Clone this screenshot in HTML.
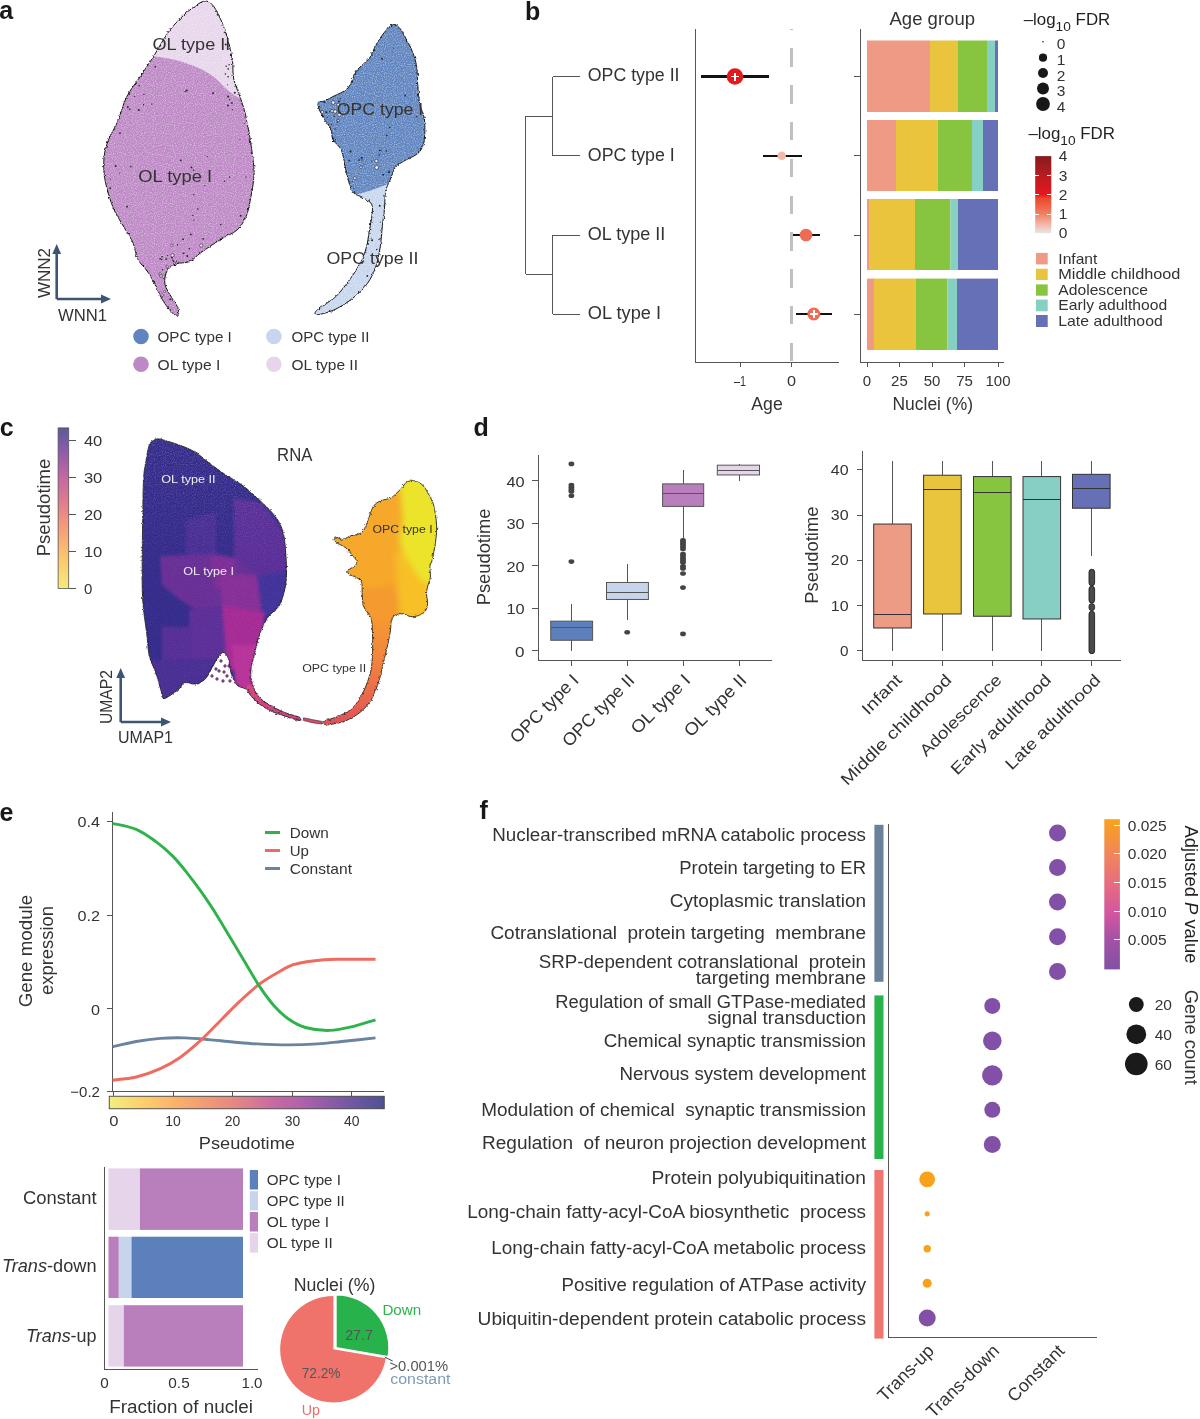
<!DOCTYPE html>
<html><head><meta charset="utf-8"><style>
html,body{margin:0;padding:0;background:#fff;}
svg{display:block;will-change:transform;}
text{font-family:"Liberation Sans", sans-serif;}
line{shape-rendering:crispEdges;}
</style></head><body>
<svg width="1200" height="1419" viewBox="0 0 1200 1419">
<rect width="1200" height="1419" fill="#fff"/>
<defs>
<clipPath id="clipOL"><path d="M204.4,1.1 C207.4,0.7 209.8,2.0 212.2,4.5 C214.6,7.0 216.9,11.7 219.0,15.8 C221.1,19.9 222.9,24.4 224.6,29.3 C226.3,34.2 227.9,39.8 229.2,45.1 C230.5,50.4 231.8,55.3 232.5,60.9 C233.2,66.5 232.6,73.3 233.7,78.9 C234.8,84.5 237.4,89.1 239.3,94.7 C241.2,100.3 243.3,105.9 245.0,112.7 C246.7,119.5 248.2,127.8 249.5,135.3 C250.8,142.8 252.1,151.0 252.8,157.8 C253.6,164.6 254.4,169.1 254.0,175.9 C253.6,182.7 251.9,191.6 250.6,198.4 C249.3,205.2 248.4,211.2 246.1,216.5 C243.8,221.8 241.1,226.2 237.0,230.0 C232.9,233.8 227.3,235.2 221.3,239.0 C215.3,242.8 206.3,248.7 201.0,252.5 C195.7,256.3 193.8,259.7 189.7,261.6 C185.6,263.5 179.9,262.3 176.2,263.8 C172.4,265.3 169.1,267.2 167.2,270.6 C165.3,274.0 164.2,279.6 164.9,284.1 C165.7,288.6 169.6,293.8 171.7,297.6 C173.8,301.4 176.2,303.9 177.3,306.7 C178.4,309.5 179.2,313.4 178.4,314.5 C177.7,315.6 175.4,315.8 172.8,313.4 C170.2,311.0 165.8,305.1 162.6,299.9 C159.4,294.6 156.2,286.8 153.6,281.9 C151.0,277.0 149.5,274.4 146.9,270.6 C144.3,266.8 140.1,263.8 137.8,259.3 C135.5,254.8 135.6,248.8 133.3,243.5 C131.1,238.2 127.7,233.7 124.3,227.7 C120.9,221.7 116.2,215.3 113.0,207.4 C109.8,199.5 106.6,188.7 105.1,180.4 C103.6,172.1 103.4,164.6 104.0,157.8 C104.6,151.0 106.2,145.8 108.5,139.8 C110.8,133.8 114.5,128.9 117.5,121.8 C120.5,114.7 122.8,104.5 126.6,97.0 C130.4,89.5 135.6,83.5 140.1,76.7 C144.6,69.9 149.1,63.5 153.6,56.4 C158.1,49.2 162.7,40.2 167.2,33.8 C171.7,27.4 176.2,22.5 180.7,18.0 C185.2,13.5 190.2,9.6 194.2,6.8 C198.1,4.0 201.4,1.5 204.4,1.1Z"/></clipPath>
<clipPath id="clipOPC"><path d="M393.1,24.7 C395.6,24.0 397.4,25.6 399.5,27.9 C401.6,30.2 403.9,34.7 406.0,38.6 C408.1,42.5 410.6,46.8 412.4,51.5 C414.2,56.2 415.8,60.9 416.7,66.6 C417.6,72.3 417.2,79.5 417.8,85.9 C418.4,92.3 418.9,99.8 420.0,105.2 C421.1,110.6 423.6,112.4 424.3,118.1 C425.0,123.8 425.2,133.9 424.3,139.6 C423.4,145.3 422.3,148.9 418.9,152.5 C415.5,156.1 407.8,158.6 403.8,161.1 C399.9,163.6 397.5,164.4 395.2,167.6 C392.9,170.8 391.5,176.6 389.9,180.5 C388.3,184.4 386.5,186.5 385.6,191.2 C384.7,195.8 385.0,202.7 384.5,208.4 C384.0,214.1 383.1,219.2 382.4,225.6 C381.7,232.0 381.3,240.2 380.2,247.0 C379.1,253.8 378.0,260.3 375.9,266.4 C373.8,272.5 371.2,278.2 367.3,283.6 C363.4,289.0 357.7,294.3 352.3,298.6 C346.9,302.9 340.8,306.7 335.1,309.4 C329.4,312.1 321.1,314.3 317.9,314.7 C314.7,315.1 314.3,313.4 315.7,311.5 C317.1,309.6 322.8,306.4 326.5,303.5 C330.2,300.6 333.4,299.4 338.0,294.3 C342.6,289.2 349.9,279.9 354.4,272.8 C358.9,265.7 362.7,258.5 365.2,251.4 C367.7,244.3 368.4,236.1 369.5,230.0 C370.6,223.9 371.6,219.3 372.0,215.0 C372.4,210.7 373.1,207.0 371.6,204.1 C370.1,201.2 366.2,199.8 363.0,197.6 C359.8,195.4 355.2,195.8 352.3,191.2 C349.4,186.5 347.6,176.5 345.8,169.7 C344.0,162.9 343.6,155.4 341.5,150.4 C339.4,145.4 334.7,143.2 332.9,139.6 C331.1,136.0 332.6,132.8 330.8,128.9 C329.0,125.0 324.4,120.3 322.2,116.0 C320.0,111.7 317.5,105.6 317.9,103.1 C318.2,100.6 321.8,102.1 324.3,101.0 C326.8,99.9 328.9,98.8 332.9,96.6 C336.8,94.4 344.1,92.3 348.0,88.0 C351.9,83.7 353.0,75.9 356.6,70.9 C360.2,65.9 366.3,62.3 369.5,58.0 C372.7,53.7 373.4,49.4 375.9,45.1 C378.4,40.8 381.6,35.6 384.5,32.2 C387.4,28.8 390.6,25.4 393.1,24.7Z"/></clipPath>
<filter id="speck" x="0" y="0" width="100%" height="100%"><feTurbulence type="fractalNoise" baseFrequency="0.9" numOctaves="1" seed="3" result="n"/><feColorMatrix in="n" type="matrix" values="0 0 0 0 1  0 0 0 0 1  0 0 0 0 1  0 0 0 -2.2 1.25" result="w"/><feComposite in="w" in2="SourceGraphic" operator="in"/></filter>
</defs>
<path d="M204.4,1.1 C207.4,0.7 209.8,2.0 212.2,4.5 C214.6,7.0 216.9,11.7 219.0,15.8 C221.1,19.9 222.9,24.4 224.6,29.3 C226.3,34.2 227.9,39.8 229.2,45.1 C230.5,50.4 231.8,55.3 232.5,60.9 C233.2,66.5 232.6,73.3 233.7,78.9 C234.8,84.5 237.4,89.1 239.3,94.7 C241.2,100.3 243.3,105.9 245.0,112.7 C246.7,119.5 248.2,127.8 249.5,135.3 C250.8,142.8 252.1,151.0 252.8,157.8 C253.6,164.6 254.4,169.1 254.0,175.9 C253.6,182.7 251.9,191.6 250.6,198.4 C249.3,205.2 248.4,211.2 246.1,216.5 C243.8,221.8 241.1,226.2 237.0,230.0 C232.9,233.8 227.3,235.2 221.3,239.0 C215.3,242.8 206.3,248.7 201.0,252.5 C195.7,256.3 193.8,259.7 189.7,261.6 C185.6,263.5 179.9,262.3 176.2,263.8 C172.4,265.3 169.1,267.2 167.2,270.6 C165.3,274.0 164.2,279.6 164.9,284.1 C165.7,288.6 169.6,293.8 171.7,297.6 C173.8,301.4 176.2,303.9 177.3,306.7 C178.4,309.5 179.2,313.4 178.4,314.5 C177.7,315.6 175.4,315.8 172.8,313.4 C170.2,311.0 165.8,305.1 162.6,299.9 C159.4,294.6 156.2,286.8 153.6,281.9 C151.0,277.0 149.5,274.4 146.9,270.6 C144.3,266.8 140.1,263.8 137.8,259.3 C135.5,254.8 135.6,248.8 133.3,243.5 C131.1,238.2 127.7,233.7 124.3,227.7 C120.9,221.7 116.2,215.3 113.0,207.4 C109.8,199.5 106.6,188.7 105.1,180.4 C103.6,172.1 103.4,164.6 104.0,157.8 C104.6,151.0 106.2,145.8 108.5,139.8 C110.8,133.8 114.5,128.9 117.5,121.8 C120.5,114.7 122.8,104.5 126.6,97.0 C130.4,89.5 135.6,83.5 140.1,76.7 C144.6,69.9 149.1,63.5 153.6,56.4 C158.1,49.2 162.7,40.2 167.2,33.8 C171.7,27.4 176.2,22.5 180.7,18.0 C185.2,13.5 190.2,9.6 194.2,6.8 C198.1,4.0 201.4,1.5 204.4,1.1Z" fill="#bd88c5"/>
<g clip-path="url(#clipOL)"><path d="M150,56 C175,58 200,66 214,77 C224,86 230,94 240,98 L260,0 L140,0Z" fill="#e7d6eb"/></g>
<path d="M393.1,24.7 C395.6,24.0 397.4,25.6 399.5,27.9 C401.6,30.2 403.9,34.7 406.0,38.6 C408.1,42.5 410.6,46.8 412.4,51.5 C414.2,56.2 415.8,60.9 416.7,66.6 C417.6,72.3 417.2,79.5 417.8,85.9 C418.4,92.3 418.9,99.8 420.0,105.2 C421.1,110.6 423.6,112.4 424.3,118.1 C425.0,123.8 425.2,133.9 424.3,139.6 C423.4,145.3 422.3,148.9 418.9,152.5 C415.5,156.1 407.8,158.6 403.8,161.1 C399.9,163.6 397.5,164.4 395.2,167.6 C392.9,170.8 391.5,176.6 389.9,180.5 C388.3,184.4 386.5,186.5 385.6,191.2 C384.7,195.8 385.0,202.7 384.5,208.4 C384.0,214.1 383.1,219.2 382.4,225.6 C381.7,232.0 381.3,240.2 380.2,247.0 C379.1,253.8 378.0,260.3 375.9,266.4 C373.8,272.5 371.2,278.2 367.3,283.6 C363.4,289.0 357.7,294.3 352.3,298.6 C346.9,302.9 340.8,306.7 335.1,309.4 C329.4,312.1 321.1,314.3 317.9,314.7 C314.7,315.1 314.3,313.4 315.7,311.5 C317.1,309.6 322.8,306.4 326.5,303.5 C330.2,300.6 333.4,299.4 338.0,294.3 C342.6,289.2 349.9,279.9 354.4,272.8 C358.9,265.7 362.7,258.5 365.2,251.4 C367.7,244.3 368.4,236.1 369.5,230.0 C370.6,223.9 371.6,219.3 372.0,215.0 C372.4,210.7 373.1,207.0 371.6,204.1 C370.1,201.2 366.2,199.8 363.0,197.6 C359.8,195.4 355.2,195.8 352.3,191.2 C349.4,186.5 347.6,176.5 345.8,169.7 C344.0,162.9 343.6,155.4 341.5,150.4 C339.4,145.4 334.7,143.2 332.9,139.6 C331.1,136.0 332.6,132.8 330.8,128.9 C329.0,125.0 324.4,120.3 322.2,116.0 C320.0,111.7 317.5,105.6 317.9,103.1 C318.2,100.6 321.8,102.1 324.3,101.0 C326.8,99.9 328.9,98.8 332.9,96.6 C336.8,94.4 344.1,92.3 348.0,88.0 C351.9,83.7 353.0,75.9 356.6,70.9 C360.2,65.9 366.3,62.3 369.5,58.0 C372.7,53.7 373.4,49.4 375.9,45.1 C378.4,40.8 381.6,35.6 384.5,32.2 C387.4,28.8 390.6,25.4 393.1,24.7Z" fill="#5f84bf"/>
<g clip-path="url(#clipOPC)"><path d="M338,197 C355,196 372,191 395,181 L430,181 L430,330 L300,330Z" fill="#c7d6ee"/></g>
<g opacity="0.55"><rect x="100" y="0" width="330" height="320" fill="#000" filter="url(#speck)" clip-path="url(#clipOL)"/></g>
<g opacity="0.55"><rect x="100" y="0" width="330" height="320" fill="#000" filter="url(#speck)" clip-path="url(#clipOPC)"/></g>
<filter id="rough" x="-5%" y="-5%" width="110%" height="110%"><feTurbulence type="fractalNoise" baseFrequency="0.35" numOctaves="2" seed="7" result="t"/><feDisplacementMap in="SourceGraphic" in2="t" scale="3.2" xChannelSelector="R" yChannelSelector="G"/></filter>
<g clip-path="url(#clipOL)">
<circle cx="177.3" cy="293.6" r="0.89" fill="#222"/>
<circle cx="170.2" cy="281.4" r="0.59" fill="#222"/>
<circle cx="232.1" cy="75.3" r="0.59" fill="#222"/>
<circle cx="166.1" cy="259.1" r="0.90" fill="#222"/>
<circle cx="224.4" cy="181.2" r="0.70" fill="#222"/>
<circle cx="173.1" cy="282.7" r="0.58" fill="#222"/>
<circle cx="129.8" cy="67.3" r="0.52" fill="#222"/>
<circle cx="144.0" cy="94.5" r="0.66" fill="#222"/>
<circle cx="237.6" cy="66.7" r="0.82" fill="#222"/>
<circle cx="160.1" cy="258.8" r="0.83" fill="#222"/>
<circle cx="180.0" cy="299.8" r="0.92" fill="#222"/>
<circle cx="197.8" cy="208.9" r="0.76" fill="#222"/>
<circle cx="106.2" cy="204.4" r="0.70" fill="#222"/>
<circle cx="188.2" cy="273.5" r="0.92" fill="#222"/>
<circle cx="110.6" cy="235.8" r="0.53" fill="#222"/>
<circle cx="179.6" cy="272.9" r="0.54" fill="#222"/>
<circle cx="193.9" cy="194.7" r="0.67" fill="#222"/>
<circle cx="185.0" cy="273.7" r="0.88" fill="#222"/>
<circle cx="108.2" cy="192.9" r="0.51" fill="#222"/>
<circle cx="175.9" cy="263.0" r="0.78" fill="#222"/>
<circle cx="170.2" cy="299.3" r="0.88" fill="#222"/>
<circle cx="172.9" cy="260.2" r="0.71" fill="#222"/>
<circle cx="120.0" cy="100.5" r="0.99" fill="#222"/>
<circle cx="229.6" cy="99.6" r="0.61" fill="#222"/>
<circle cx="179.9" cy="282.1" r="0.79" fill="#222"/>
<circle cx="134.7" cy="96.6" r="0.63" fill="#222"/>
<circle cx="229.9" cy="46.7" r="0.54" fill="#222"/>
<circle cx="110.5" cy="179.1" r="0.51" fill="#222"/>
<circle cx="187.3" cy="255.9" r="0.98" fill="#222"/>
<circle cx="176.6" cy="261.1" r="0.69" fill="#222"/>
<circle cx="190.8" cy="234.4" r="0.91" fill="#222"/>
<circle cx="149.0" cy="51.1" r="0.81" fill="#222"/>
<circle cx="227.9" cy="105.5" r="0.94" fill="#222"/>
<circle cx="226.2" cy="24.3" r="0.55" fill="#222"/>
<circle cx="239.4" cy="41.5" r="0.85" fill="#222"/>
<circle cx="190.2" cy="271.7" r="0.75" fill="#222"/>
<circle cx="227.6" cy="84.8" r="0.53" fill="#222"/>
<circle cx="139.2" cy="85.7" r="0.81" fill="#222"/>
<circle cx="112.7" cy="233.9" r="0.60" fill="#222"/>
<circle cx="106.1" cy="135.2" r="0.62" fill="#222"/>
<circle cx="109.5" cy="126.9" r="0.79" fill="#222"/>
<circle cx="123.7" cy="49.7" r="0.73" fill="#222"/>
<circle cx="204.4" cy="264.2" r="0.79" fill="#222"/>
<circle cx="143.6" cy="104.7" r="0.74" fill="#222"/>
<circle cx="207.1" cy="273.7" r="0.51" fill="#222"/>
<circle cx="185.2" cy="91.4" r="0.66" fill="#222"/>
<circle cx="160.0" cy="45.3" r="0.77" fill="#222"/>
<circle cx="183.1" cy="239.2" r="0.87" fill="#222"/>
<circle cx="151.7" cy="104.1" r="0.68" fill="#222"/>
<circle cx="213.1" cy="93.2" r="0.93" fill="#222"/>
<circle cx="130.8" cy="166.7" r="0.81" fill="#222"/>
<circle cx="167.6" cy="255.6" r="0.54" fill="#222"/>
<circle cx="123.8" cy="248.7" r="0.94" fill="#222"/>
<circle cx="203.1" cy="238.8" r="0.85" fill="#222"/>
<circle cx="168.8" cy="292.7" r="0.54" fill="#222"/>
<circle cx="225.4" cy="74.1" r="0.74" fill="#222"/>
<circle cx="158.3" cy="47.9" r="0.89" fill="#222"/>
<circle cx="244.4" cy="123.5" r="0.51" fill="#222"/>
<circle cx="173.6" cy="261.4" r="0.76" fill="#222"/>
<circle cx="204.6" cy="255.5" r="0.95" fill="#222"/>
<circle cx="189.3" cy="248.8" r="0.82" fill="#222"/>
<circle cx="155.2" cy="66.9" r="0.79" fill="#222"/>
<circle cx="177.6" cy="244.7" r="0.68" fill="#222"/>
<circle cx="126.0" cy="240.3" r="0.64" fill="#222"/>
<circle cx="124.5" cy="73.0" r="0.96" fill="#222"/>
<circle cx="167.7" cy="278.4" r="0.84" fill="#222"/>
<circle cx="238.7" cy="246.9" r="0.73" fill="#222"/>
<circle cx="129.7" cy="109.2" r="0.80" fill="#222"/>
<circle cx="229.6" cy="177.0" r="0.65" fill="#222"/>
<circle cx="225.3" cy="32.2" r="0.73" fill="#222"/>
<circle cx="127.8" cy="107.0" r="0.89" fill="#222"/>
<circle cx="134.5" cy="77.5" r="0.55" fill="#222"/>
<circle cx="234.8" cy="92.7" r="0.98" fill="#222"/>
<circle cx="193.9" cy="220.1" r="0.63" fill="#222"/>
<circle cx="180.8" cy="160.3" r="0.86" fill="#222"/>
<circle cx="129.1" cy="94.5" r="0.77" fill="#222"/>
<circle cx="232.5" cy="109.7" r="0.58" fill="#222"/>
<circle cx="243.4" cy="94.8" r="0.97" fill="#222"/>
<circle cx="207.2" cy="156.6" r="0.60" fill="#222"/>
<circle cx="115.7" cy="165.9" r="0.94" fill="#222"/>
<circle cx="192.8" cy="262.8" r="0.60" fill="#222"/>
<circle cx="240.6" cy="215.7" r="0.96" fill="#222"/>
<circle cx="110.6" cy="230.5" r="0.99" fill="#222"/>
<circle cx="197.2" cy="267.7" r="0.66" fill="#222"/>
<circle cx="239.9" cy="139.2" r="0.54" fill="#222"/>
<circle cx="166.8" cy="274.0" r="0.64" fill="#222"/>
<circle cx="110.8" cy="224.2" r="0.71" fill="#222"/>
<circle cx="109.4" cy="120.3" r="0.89" fill="#222"/>
<circle cx="138.8" cy="110.0" r="0.95" fill="#222"/>
<circle cx="237.6" cy="82.0" r="0.97" fill="#222"/>
<circle cx="171.6" cy="286.0" r="0.88" fill="#222"/>
<circle cx="170.5" cy="268.1" r="0.86" fill="#222"/>
<circle cx="191.5" cy="167.4" r="0.95" fill="#222"/>
<circle cx="183.7" cy="253.3" r="0.92" fill="#222"/>
<circle cx="228.1" cy="96.6" r="0.98" fill="#222"/>
<circle cx="229.1" cy="64.8" r="0.71" fill="#222"/>
<circle cx="119.6" cy="173.0" r="0.51" fill="#222"/>
<circle cx="120.0" cy="133.1" r="0.90" fill="#222"/>
<circle cx="226.8" cy="28.4" r="0.58" fill="#222"/>
<circle cx="231.9" cy="102.9" r="0.90" fill="#222"/>
<circle cx="165.4" cy="276.3" r="0.56" fill="#222"/>
<circle cx="178.0" cy="297.1" r="0.96" fill="#222"/>
<circle cx="229.8" cy="37.2" r="0.81" fill="#222"/>
<circle cx="172.8" cy="267.3" r="0.51" fill="#222"/>
<circle cx="126.2" cy="40.8" r="0.64" fill="#222"/>
<circle cx="204.9" cy="185.4" r="0.55" fill="#222"/>
<circle cx="220.8" cy="224.8" r="0.81" fill="#222"/>
<circle cx="193.8" cy="170.2" r="0.72" fill="#222"/>
<circle cx="172.7" cy="292.1" r="0.81" fill="#222"/>
<circle cx="228.1" cy="76.8" r="0.82" fill="#222"/>
<circle cx="228.2" cy="68.9" r="0.79" fill="#222"/>
<circle cx="129.3" cy="91.9" r="0.91" fill="#222"/>
<circle cx="132.6" cy="62.0" r="0.96" fill="#222"/>
<circle cx="151.1" cy="53.6" r="0.55" fill="#222"/>
<circle cx="125.3" cy="46.2" r="0.69" fill="#222"/>
<circle cx="176.6" cy="274.0" r="0.89" fill="#222"/>
<circle cx="128.0" cy="84.0" r="0.90" fill="#222"/>
<circle cx="110.2" cy="188.1" r="0.96" fill="#222"/>
<circle cx="171.9" cy="257.7" r="0.88" fill="#222"/>
<circle cx="240.0" cy="95.0" r="0.90" fill="#222"/>
<circle cx="162.1" cy="256.7" r="0.78" fill="#222"/>
<circle cx="238.6" cy="63.3" r="0.59" fill="#222"/>
<circle cx="110.3" cy="218.8" r="1.00" fill="#222"/>
<circle cx="186.7" cy="90.5" r="0.98" fill="#222"/>
<circle cx="161.6" cy="259.4" r="0.70" fill="#222"/>
<circle cx="170.3" cy="274.4" r="0.80" fill="#222"/>
<circle cx="123.7" cy="63.0" r="0.60" fill="#222"/>
<circle cx="169.1" cy="288.3" r="0.70" fill="#222"/>
<circle cx="144.2" cy="46.6" r="0.90" fill="#222"/>
<circle cx="218.6" cy="268.1" r="0.85" fill="#222"/>
<circle cx="245.8" cy="176.8" r="0.60" fill="#222"/>
<circle cx="239.7" cy="92.4" r="0.63" fill="#222"/>
<circle cx="127.1" cy="206.7" r="0.91" fill="#222"/>
<circle cx="162.7" cy="269.8" r="0.77" fill="#222"/>
<circle cx="211.0" cy="266.8" r="0.70" fill="#222"/>
<circle cx="192.9" cy="215.5" r="0.65" fill="#222"/>
<circle cx="104.3" cy="124.3" r="0.82" fill="#222"/>
<circle cx="225.7" cy="44.6" r="0.98" fill="#222"/>
<circle cx="185.3" cy="263.1" r="0.78" fill="#222"/>
<circle cx="226.2" cy="66.3" r="0.75" fill="#222"/>
</g>
<g clip-path="url(#clipOL)">
<circle cx="207.1" cy="264.9" r="1.98" fill="#f4eef6" stroke="#222" stroke-width="0.6"/>
<circle cx="171.9" cy="245.2" r="1.24" fill="#f4eef6" stroke="#222" stroke-width="0.6"/>
<circle cx="167.2" cy="266.8" r="1.20" fill="#f4eef6" stroke="#222" stroke-width="0.6"/>
<circle cx="160.2" cy="274.0" r="1.28" fill="#f4eef6" stroke="#222" stroke-width="0.6"/>
<circle cx="169.9" cy="282.8" r="1.97" fill="#f4eef6" stroke="#222" stroke-width="0.6"/>
<circle cx="203.3" cy="266.3" r="1.08" fill="#f4eef6" stroke="#222" stroke-width="0.6"/>
<circle cx="188.2" cy="270.2" r="1.39" fill="#f4eef6" stroke="#222" stroke-width="0.6"/>
<circle cx="216.3" cy="258.3" r="1.60" fill="#f4eef6" stroke="#222" stroke-width="0.6"/>
<circle cx="177.0" cy="279.7" r="1.53" fill="#f4eef6" stroke="#222" stroke-width="0.6"/>
<circle cx="166.6" cy="275.0" r="1.66" fill="#f4eef6" stroke="#222" stroke-width="0.6"/>
<circle cx="171.9" cy="291.2" r="1.03" fill="#f4eef6" stroke="#222" stroke-width="0.6"/>
<circle cx="200.1" cy="261.0" r="1.41" fill="#f4eef6" stroke="#222" stroke-width="0.6"/>
<circle cx="161.0" cy="276.0" r="1.40" fill="#f4eef6" stroke="#222" stroke-width="0.6"/>
<circle cx="161.3" cy="296.7" r="1.43" fill="#f4eef6" stroke="#222" stroke-width="0.6"/>
<circle cx="164.5" cy="291.4" r="1.05" fill="#f4eef6" stroke="#222" stroke-width="0.6"/>
<circle cx="221.2" cy="263.7" r="1.47" fill="#f4eef6" stroke="#222" stroke-width="0.6"/>
<circle cx="201.2" cy="245.5" r="1.62" fill="#f4eef6" stroke="#222" stroke-width="0.6"/>
<circle cx="162.1" cy="295.1" r="1.36" fill="#f4eef6" stroke="#222" stroke-width="0.6"/>
<circle cx="172.5" cy="255.3" r="1.67" fill="#f4eef6" stroke="#222" stroke-width="0.6"/>
<circle cx="170.8" cy="287.4" r="1.68" fill="#f4eef6" stroke="#222" stroke-width="0.6"/>
<circle cx="174.0" cy="283.6" r="2.00" fill="#f4eef6" stroke="#222" stroke-width="0.6"/>
<circle cx="173.2" cy="273.3" r="1.11" fill="#f4eef6" stroke="#222" stroke-width="0.6"/>
</g>
<g clip-path="url(#clipOPC)">
<circle cx="379.6" cy="262.5" r="0.68" fill="#222"/>
<circle cx="375.2" cy="272.5" r="0.85" fill="#222"/>
<circle cx="335.1" cy="128.9" r="0.59" fill="#222"/>
<circle cx="331.6" cy="124.4" r="0.60" fill="#222"/>
<circle cx="379.6" cy="150.5" r="0.63" fill="#222"/>
<circle cx="379.3" cy="155.1" r="0.77" fill="#222"/>
<circle cx="386.6" cy="195.6" r="0.58" fill="#222"/>
<circle cx="335.0" cy="111.8" r="0.74" fill="#222"/>
<circle cx="327.1" cy="117.2" r="0.57" fill="#222"/>
<circle cx="389.1" cy="172.4" r="0.91" fill="#222"/>
<circle cx="330.0" cy="128.6" r="0.70" fill="#222"/>
<circle cx="328.0" cy="124.4" r="0.99" fill="#222"/>
<circle cx="367.3" cy="275.9" r="0.91" fill="#222"/>
<circle cx="329.5" cy="111.6" r="0.55" fill="#222"/>
<circle cx="362.0" cy="208.3" r="0.78" fill="#222"/>
<circle cx="405.2" cy="95.6" r="0.91" fill="#222"/>
<circle cx="349.2" cy="160.7" r="0.83" fill="#222"/>
<circle cx="383.2" cy="174.7" r="0.88" fill="#222"/>
<circle cx="367.1" cy="214.3" r="0.68" fill="#222"/>
<circle cx="369.2" cy="211.7" r="0.85" fill="#222"/>
<circle cx="370.9" cy="280.3" r="0.65" fill="#222"/>
<circle cx="365.5" cy="296.8" r="0.86" fill="#222"/>
<circle cx="320.3" cy="132.3" r="0.51" fill="#222"/>
<circle cx="386.8" cy="135.5" r="0.87" fill="#222"/>
<circle cx="379.9" cy="254.1" r="0.92" fill="#222"/>
<circle cx="322.8" cy="129.2" r="0.94" fill="#222"/>
<circle cx="380.3" cy="222.1" r="0.53" fill="#222"/>
<circle cx="333.3" cy="138.5" r="0.83" fill="#222"/>
<circle cx="345.1" cy="105.6" r="0.89" fill="#222"/>
<circle cx="363.4" cy="163.7" r="0.55" fill="#222"/>
<circle cx="362.1" cy="263.4" r="0.57" fill="#222"/>
<circle cx="359.6" cy="66.5" r="0.88" fill="#222"/>
<circle cx="379.1" cy="239.4" r="0.67" fill="#222"/>
<circle cx="376.8" cy="249.4" r="0.77" fill="#222"/>
<circle cx="383.9" cy="195.7" r="0.71" fill="#222"/>
<circle cx="381.3" cy="280.6" r="0.92" fill="#222"/>
<circle cx="416.6" cy="116.8" r="0.76" fill="#222"/>
<circle cx="389.1" cy="171.1" r="0.71" fill="#222"/>
<circle cx="324.6" cy="102.3" r="0.82" fill="#222"/>
<circle cx="326.7" cy="112.5" r="0.76" fill="#222"/>
<circle cx="384.2" cy="205.9" r="0.65" fill="#222"/>
<circle cx="361.7" cy="157.8" r="0.96" fill="#222"/>
<circle cx="386.4" cy="150.9" r="0.74" fill="#222"/>
<circle cx="362.2" cy="159.9" r="0.68" fill="#222"/>
<circle cx="334.2" cy="116.2" r="0.75" fill="#222"/>
<circle cx="354.8" cy="73.7" r="0.59" fill="#222"/>
<circle cx="375.7" cy="294.2" r="0.78" fill="#222"/>
<circle cx="372.1" cy="240.3" r="0.98" fill="#222"/>
<circle cx="371.5" cy="161.1" r="0.52" fill="#222"/>
<circle cx="339.6" cy="112.3" r="0.76" fill="#222"/>
<circle cx="379.7" cy="205.8" r="0.96" fill="#222"/>
<circle cx="393.1" cy="195.3" r="0.73" fill="#222"/>
<circle cx="337.3" cy="122.3" r="0.58" fill="#222"/>
<circle cx="338.8" cy="101.5" r="0.95" fill="#222"/>
<circle cx="335.2" cy="139.7" r="0.63" fill="#222"/>
<circle cx="353.3" cy="188.5" r="0.50" fill="#222"/>
<circle cx="340.2" cy="98.7" r="0.63" fill="#222"/>
<circle cx="393.9" cy="184.7" r="0.54" fill="#222"/>
<circle cx="360.5" cy="218.8" r="0.60" fill="#222"/>
<circle cx="388.0" cy="172.0" r="0.52" fill="#222"/>
<circle cx="382.1" cy="58.9" r="0.92" fill="#222"/>
<circle cx="367.9" cy="240.5" r="0.78" fill="#222"/>
<circle cx="393.4" cy="48.0" r="0.54" fill="#222"/>
<circle cx="320.9" cy="112.7" r="0.73" fill="#222"/>
<circle cx="381.0" cy="150.6" r="0.69" fill="#222"/>
<circle cx="359.0" cy="107.7" r="0.73" fill="#222"/>
<circle cx="392.1" cy="192.2" r="0.86" fill="#222"/>
<circle cx="325.8" cy="111.9" r="0.77" fill="#222"/>
<circle cx="383.9" cy="275.5" r="0.78" fill="#222"/>
<circle cx="359.1" cy="160.0" r="0.87" fill="#222"/>
<circle cx="367.7" cy="227.4" r="0.73" fill="#222"/>
<circle cx="371.2" cy="238.2" r="0.55" fill="#222"/>
<circle cx="352.2" cy="181.5" r="0.59" fill="#222"/>
<circle cx="328.9" cy="132.7" r="0.80" fill="#222"/>
<circle cx="350.5" cy="151.6" r="0.99" fill="#222"/>
<circle cx="372.5" cy="48.7" r="0.96" fill="#222"/>
<circle cx="414.2" cy="56.7" r="0.60" fill="#222"/>
<circle cx="340.2" cy="112.4" r="0.67" fill="#222"/>
<circle cx="389.8" cy="127.2" r="0.81" fill="#222"/>
<circle cx="384.5" cy="279.0" r="0.83" fill="#222"/>
</g>
<g clip-path="url(#clipOPC)">
<circle cx="361.0" cy="167.2" r="1.31" fill="#f4eef6" stroke="#222" stroke-width="0.6"/>
<circle cx="322.3" cy="112.0" r="1.51" fill="#f4eef6" stroke="#222" stroke-width="0.6"/>
<circle cx="338.2" cy="120.6" r="1.16" fill="#f4eef6" stroke="#222" stroke-width="0.6"/>
<circle cx="332.1" cy="111.0" r="1.50" fill="#f4eef6" stroke="#222" stroke-width="0.6"/>
<circle cx="376.7" cy="167.5" r="1.93" fill="#f4eef6" stroke="#222" stroke-width="0.6"/>
<circle cx="376.4" cy="161.0" r="1.66" fill="#f4eef6" stroke="#222" stroke-width="0.6"/>
<circle cx="354.8" cy="178.2" r="1.42" fill="#f4eef6" stroke="#222" stroke-width="0.6"/>
<circle cx="327.2" cy="132.4" r="1.36" fill="#f4eef6" stroke="#222" stroke-width="0.6"/>
<circle cx="339.4" cy="114.7" r="1.73" fill="#f4eef6" stroke="#222" stroke-width="0.6"/>
<circle cx="393.2" cy="180.7" r="1.56" fill="#f4eef6" stroke="#222" stroke-width="0.6"/>
<circle cx="323.7" cy="125.6" r="1.90" fill="#f4eef6" stroke="#222" stroke-width="0.6"/>
<circle cx="333.2" cy="102.5" r="1.82" fill="#f4eef6" stroke="#222" stroke-width="0.6"/>
<circle cx="335.1" cy="111.5" r="1.76" fill="#f4eef6" stroke="#222" stroke-width="0.6"/>
<circle cx="338.3" cy="104.9" r="1.55" fill="#f4eef6" stroke="#222" stroke-width="0.6"/>
</g>
<path d="M204.4,1.1 C207.4,0.7 209.8,2.0 212.2,4.5 C214.6,7.0 216.9,11.7 219.0,15.8 C221.1,19.9 222.9,24.4 224.6,29.3 C226.3,34.2 227.9,39.8 229.2,45.1 C230.5,50.4 231.8,55.3 232.5,60.9 C233.2,66.5 232.6,73.3 233.7,78.9 C234.8,84.5 237.4,89.1 239.3,94.7 C241.2,100.3 243.3,105.9 245.0,112.7 C246.7,119.5 248.2,127.8 249.5,135.3 C250.8,142.8 252.1,151.0 252.8,157.8 C253.6,164.6 254.4,169.1 254.0,175.9 C253.6,182.7 251.9,191.6 250.6,198.4 C249.3,205.2 248.4,211.2 246.1,216.5 C243.8,221.8 241.1,226.2 237.0,230.0 C232.9,233.8 227.3,235.2 221.3,239.0 C215.3,242.8 206.3,248.7 201.0,252.5 C195.7,256.3 193.8,259.7 189.7,261.6 C185.6,263.5 179.9,262.3 176.2,263.8 C172.4,265.3 169.1,267.2 167.2,270.6 C165.3,274.0 164.2,279.6 164.9,284.1 C165.7,288.6 169.6,293.8 171.7,297.6 C173.8,301.4 176.2,303.9 177.3,306.7 C178.4,309.5 179.2,313.4 178.4,314.5 C177.7,315.6 175.4,315.8 172.8,313.4 C170.2,311.0 165.8,305.1 162.6,299.9 C159.4,294.6 156.2,286.8 153.6,281.9 C151.0,277.0 149.5,274.4 146.9,270.6 C144.3,266.8 140.1,263.8 137.8,259.3 C135.5,254.8 135.6,248.8 133.3,243.5 C131.1,238.2 127.7,233.7 124.3,227.7 C120.9,221.7 116.2,215.3 113.0,207.4 C109.8,199.5 106.6,188.7 105.1,180.4 C103.6,172.1 103.4,164.6 104.0,157.8 C104.6,151.0 106.2,145.8 108.5,139.8 C110.8,133.8 114.5,128.9 117.5,121.8 C120.5,114.7 122.8,104.5 126.6,97.0 C130.4,89.5 135.6,83.5 140.1,76.7 C144.6,69.9 149.1,63.5 153.6,56.4 C158.1,49.2 162.7,40.2 167.2,33.8 C171.7,27.4 176.2,22.5 180.7,18.0 C185.2,13.5 190.2,9.6 194.2,6.8 C198.1,4.0 201.4,1.5 204.4,1.1Z" fill="none" stroke="#1a1a1a" stroke-width="1" filter="url(#rough)"/>
<path d="M393.1,24.7 C395.6,24.0 397.4,25.6 399.5,27.9 C401.6,30.2 403.9,34.7 406.0,38.6 C408.1,42.5 410.6,46.8 412.4,51.5 C414.2,56.2 415.8,60.9 416.7,66.6 C417.6,72.3 417.2,79.5 417.8,85.9 C418.4,92.3 418.9,99.8 420.0,105.2 C421.1,110.6 423.6,112.4 424.3,118.1 C425.0,123.8 425.2,133.9 424.3,139.6 C423.4,145.3 422.3,148.9 418.9,152.5 C415.5,156.1 407.8,158.6 403.8,161.1 C399.9,163.6 397.5,164.4 395.2,167.6 C392.9,170.8 391.5,176.6 389.9,180.5 C388.3,184.4 386.5,186.5 385.6,191.2 C384.7,195.8 385.0,202.7 384.5,208.4 C384.0,214.1 383.1,219.2 382.4,225.6 C381.7,232.0 381.3,240.2 380.2,247.0 C379.1,253.8 378.0,260.3 375.9,266.4 C373.8,272.5 371.2,278.2 367.3,283.6 C363.4,289.0 357.7,294.3 352.3,298.6 C346.9,302.9 340.8,306.7 335.1,309.4 C329.4,312.1 321.1,314.3 317.9,314.7 C314.7,315.1 314.3,313.4 315.7,311.5 C317.1,309.6 322.8,306.4 326.5,303.5 C330.2,300.6 333.4,299.4 338.0,294.3 C342.6,289.2 349.9,279.9 354.4,272.8 C358.9,265.7 362.7,258.5 365.2,251.4 C367.7,244.3 368.4,236.1 369.5,230.0 C370.6,223.9 371.6,219.3 372.0,215.0 C372.4,210.7 373.1,207.0 371.6,204.1 C370.1,201.2 366.2,199.8 363.0,197.6 C359.8,195.4 355.2,195.8 352.3,191.2 C349.4,186.5 347.6,176.5 345.8,169.7 C344.0,162.9 343.6,155.4 341.5,150.4 C339.4,145.4 334.7,143.2 332.9,139.6 C331.1,136.0 332.6,132.8 330.8,128.9 C329.0,125.0 324.4,120.3 322.2,116.0 C320.0,111.7 317.5,105.6 317.9,103.1 C318.2,100.6 321.8,102.1 324.3,101.0 C326.8,99.9 328.9,98.8 332.9,96.6 C336.8,94.4 344.1,92.3 348.0,88.0 C351.9,83.7 353.0,75.9 356.6,70.9 C360.2,65.9 366.3,62.3 369.5,58.0 C372.7,53.7 373.4,49.4 375.9,45.1 C378.4,40.8 381.6,35.6 384.5,32.2 C387.4,28.8 390.6,25.4 393.1,24.7Z" fill="none" stroke="#1a1a1a" stroke-width="1" filter="url(#rough)"/>
<text x="152.5" y="50" font-size="17" text-anchor="start" fill="#333" font-weight="normal" textLength="77.8" lengthAdjust="spacingAndGlyphs">OL type II</text>
<text x="138.3" y="181.5" font-size="17" text-anchor="start" fill="#333" font-weight="normal" textLength="73.9" lengthAdjust="spacingAndGlyphs">OL type I</text>
<text x="336.8" y="114.9" font-size="17" text-anchor="start" fill="#333" font-weight="normal" textLength="86.4" lengthAdjust="spacingAndGlyphs">OPC type I</text>
<text x="326.5" y="264.2" font-size="17" text-anchor="start" fill="#333" font-weight="normal" textLength="92" lengthAdjust="spacingAndGlyphs">OPC type II</text>
<path d="M56.7,299 L56.7,250 M56.7,299 L105,299" stroke="#3d5574" stroke-width="2.6" fill="none"/>
<path d="M56.7,244 L52.3,254 L61.1,254Z M111,299 L101,294.6 L101,303.4Z" fill="#3d5574"/>
<text x="58" y="321" font-size="16" text-anchor="start" fill="#353233" font-weight="normal" textLength="49" lengthAdjust="spacingAndGlyphs">WNN1</text>
<text x="49.5" y="298" font-size="16" text-anchor="start" fill="#353233" font-weight="normal" textLength="50" lengthAdjust="spacingAndGlyphs" transform="rotate(-90 49.5 298)">WNN2</text>
<circle cx="141" cy="336.5" r="7.8" fill="#5f84bf" />
<text x="157.5" y="342.0" font-size="15" text-anchor="start" fill="#353233" font-weight="normal" textLength="74.3" lengthAdjust="spacingAndGlyphs">OPC type I</text>
<circle cx="273.9" cy="336.5" r="7.8" fill="#c7d6ee" />
<text x="291.4" y="342.0" font-size="15" text-anchor="start" fill="#353233" font-weight="normal" textLength="78" lengthAdjust="spacingAndGlyphs">OPC type II</text>
<circle cx="141" cy="364.3" r="7.8" fill="#bd88c5" />
<text x="157.5" y="369.8" font-size="15" text-anchor="start" fill="#353233" font-weight="normal" textLength="62.8" lengthAdjust="spacingAndGlyphs">OL type I</text>
<circle cx="273.9" cy="364.3" r="7.8" fill="#e7d6eb" />
<text x="291.4" y="369.8" font-size="15" text-anchor="start" fill="#353233" font-weight="normal" textLength="66.6" lengthAdjust="spacingAndGlyphs">OL type II</text>
<text x="-0.7" y="19.3" font-size="25" text-anchor="start" fill="#1a1718" font-weight="bold">a</text>
<text x="525" y="19.5" font-size="25" text-anchor="start" fill="#1a1718" font-weight="bold">b</text>
<text x="-0.3" y="435.8" font-size="25" text-anchor="start" fill="#1a1718" font-weight="bold">c</text>
<text x="473.5" y="436" font-size="25" text-anchor="start" fill="#1a1718" font-weight="bold">d</text>
<text x="-0.5" y="820.6" font-size="25" text-anchor="start" fill="#1a1718" font-weight="bold">e</text>
<text x="479.5" y="818.6" font-size="25" text-anchor="start" fill="#1a1718" font-weight="bold">f</text>
<line x1="525.8" y1="116" x2="525.8" y2="274" stroke="#555" stroke-width="1" />
<line x1="525.8" y1="116" x2="552.5" y2="116" stroke="#555" stroke-width="1" />
<line x1="525.8" y1="274" x2="552.5" y2="274" stroke="#555" stroke-width="1" />
<line x1="552.5" y1="76.5" x2="552.5" y2="155.8" stroke="#555" stroke-width="1" />
<line x1="552.5" y1="235" x2="552.5" y2="314" stroke="#555" stroke-width="1" />
<line x1="552.5" y1="76.5" x2="579.5" y2="76.5" stroke="#555" stroke-width="1" />
<line x1="552.5" y1="155.8" x2="579.5" y2="155.8" stroke="#555" stroke-width="1" />
<line x1="552.5" y1="235" x2="579.5" y2="235" stroke="#555" stroke-width="1" />
<line x1="552.5" y1="314" x2="579.5" y2="314" stroke="#555" stroke-width="1" />
<text x="587.8" y="81.4" font-size="17.5" text-anchor="start" fill="#353233" font-weight="normal" textLength="91.7" lengthAdjust="spacingAndGlyphs">OPC type II</text>
<text x="587.8" y="160.70000000000002" font-size="17.5" text-anchor="start" fill="#353233" font-weight="normal" textLength="87" lengthAdjust="spacingAndGlyphs">OPC type I</text>
<text x="587.8" y="239.9" font-size="17.5" text-anchor="start" fill="#353233" font-weight="normal" textLength="77.5" lengthAdjust="spacingAndGlyphs">OL type II</text>
<text x="587.8" y="318.9" font-size="17.5" text-anchor="start" fill="#353233" font-weight="normal" textLength="73.2" lengthAdjust="spacingAndGlyphs">OL type I</text>
<line x1="695" y1="29" x2="695" y2="362.5" stroke="#555" stroke-width="1" />
<line x1="694.5" y1="362" x2="838.7" y2="362" stroke="#555" stroke-width="1" />
<line x1="740" y1="362" x2="740" y2="367" stroke="#555" stroke-width="1" />
<line x1="791" y1="362" x2="791" y2="367" stroke="#555" stroke-width="1" />
<text x="734" y="386" font-size="15" text-anchor="start" fill="#353233" font-weight="normal" textLength="12" lengthAdjust="spacingAndGlyphs">–1</text>
<text x="787" y="386" font-size="15" text-anchor="start" fill="#353233" font-weight="normal" textLength="9" lengthAdjust="spacingAndGlyphs">0</text>
<text x="751.3" y="409.6" font-size="17.8" text-anchor="start" fill="#353233" font-weight="normal" textLength="31.4" lengthAdjust="spacingAndGlyphs">Age</text>
<line x1="791.5" y1="29" x2="791.5" y2="361" stroke="#c0c0c0" stroke-width="3.1" stroke-dasharray="18.4 18.4" stroke-dashoffset="17.4"/>
<line x1="701" y1="76.5" x2="769" y2="76.5" stroke="#111" stroke-width="2.6" />
<circle cx="735" cy="76.5" r="8.3" fill="#e3191c" />
<line x1="731" y1="76.5" x2="739" y2="76.5" stroke="#fff" stroke-width="1.5" />
<line x1="735" y1="72.5" x2="735" y2="80.5" stroke="#fff" stroke-width="1.5" />
<line x1="762.7" y1="155.8" x2="801.8" y2="155.8" stroke="#111" stroke-width="2.6" />
<circle cx="781.7" cy="155.8" r="4.3" fill="#f4b9a9" />
<line x1="792.7" y1="235" x2="819.8" y2="235" stroke="#111" stroke-width="2.6" />
<circle cx="806" cy="235" r="6.3" fill="#ef6b53" />
<line x1="795.8" y1="314" x2="831.8" y2="314" stroke="#111" stroke-width="2.6" />
<circle cx="813.8" cy="314" r="6.5" fill="#ef6b53" />
<line x1="809.8" y1="314" x2="817.8" y2="314" stroke="#fff" stroke-width="1.5" />
<line x1="813.8" y1="310" x2="813.8" y2="318" stroke="#fff" stroke-width="1.5" />
<line x1="860.4" y1="29" x2="860.4" y2="362.5" stroke="#555" stroke-width="1" />
<line x1="860" y1="362" x2="1003.6" y2="362" stroke="#555" stroke-width="1" />
<line x1="854.4" y1="76.5" x2="860.4" y2="76.5" stroke="#555" stroke-width="1" />
<line x1="854.4" y1="155.8" x2="860.4" y2="155.8" stroke="#555" stroke-width="1" />
<line x1="854.4" y1="235" x2="860.4" y2="235" stroke="#555" stroke-width="1" />
<line x1="854.4" y1="314" x2="860.4" y2="314" stroke="#555" stroke-width="1" />
<rect x="867" y="40.5" width="63" height="71.5" fill="#ee9a85" />
<rect x="930" y="40.5" width="28" height="71.5" fill="#e9c43c" />
<rect x="958" y="40.5" width="29" height="71.5" fill="#87c540" />
<rect x="987" y="40.5" width="8" height="71.5" fill="#86cfc3" />
<rect x="995" y="40.5" width="3" height="71.5" fill="#6670b7" />
<rect x="867" y="120" width="29" height="71" fill="#ee9a85" />
<rect x="896" y="120" width="41.60000000000002" height="71" fill="#e9c43c" />
<rect x="937.6" y="120" width="34.39999999999998" height="71" fill="#87c540" />
<rect x="972" y="120" width="11" height="71" fill="#86cfc3" />
<rect x="983" y="120" width="15" height="71" fill="#6670b7" />
<rect x="867" y="199" width="2" height="71" fill="#ee9a85" />
<rect x="869" y="199" width="46" height="71" fill="#e9c43c" />
<rect x="915" y="199" width="35.5" height="71" fill="#87c540" />
<rect x="950.5" y="199" width="7.5" height="71" fill="#86cfc3" />
<rect x="958" y="199" width="40" height="71" fill="#6670b7" />
<rect x="867" y="278.6" width="7" height="71.39999999999998" fill="#ee9a85" />
<rect x="874" y="278.6" width="42" height="71.39999999999998" fill="#e9c43c" />
<rect x="916" y="278.6" width="31.5" height="71.39999999999998" fill="#87c540" />
<rect x="947.5" y="278.6" width="9.5" height="71.39999999999998" fill="#86cfc3" />
<rect x="957" y="278.6" width="41" height="71.39999999999998" fill="#6670b7" />
<line x1="867" y1="362" x2="867" y2="367" stroke="#555" stroke-width="1" />
<text x="867" y="386" font-size="15" text-anchor="middle" fill="#353233" font-weight="normal">0</text>
<line x1="899.4" y1="362" x2="899.4" y2="367" stroke="#555" stroke-width="1" />
<text x="899.4" y="386" font-size="15" text-anchor="middle" fill="#353233" font-weight="normal">25</text>
<line x1="932" y1="362" x2="932" y2="367" stroke="#555" stroke-width="1" />
<text x="932" y="386" font-size="15" text-anchor="middle" fill="#353233" font-weight="normal">50</text>
<line x1="964.6" y1="362" x2="964.6" y2="367" stroke="#555" stroke-width="1" />
<text x="964.6" y="386" font-size="15" text-anchor="middle" fill="#353233" font-weight="normal">75</text>
<line x1="998" y1="362" x2="998" y2="367" stroke="#555" stroke-width="1" />
<text x="998" y="386" font-size="15" text-anchor="middle" fill="#353233" font-weight="normal">100</text>
<text x="892.5" y="409.6" font-size="17.5" text-anchor="start" fill="#353233" font-weight="normal" textLength="80.5" lengthAdjust="spacingAndGlyphs">Nuclei (%)</text>
<text x="889.5" y="24.5" font-size="17.5" text-anchor="start" fill="#353233" font-weight="normal" textLength="85.5" lengthAdjust="spacingAndGlyphs">Age group</text>
<text x="1023.7" y="24.7" font-size="16" fill="#231f20" textLength="86.6" lengthAdjust="spacingAndGlyphs">–log<tspan font-size="13" dy="6">10</tspan><tspan dy="-6"> FDR</tspan></text>
<circle cx="1043" cy="41.8" r="0.8" fill="#1a1718" />
<text x="1056.7" y="49.3" font-size="15.5" text-anchor="start" fill="#353233" font-weight="normal">0</text>
<circle cx="1043" cy="57.7" r="4.1" fill="#1a1718" />
<text x="1056.7" y="65.2" font-size="15.5" text-anchor="start" fill="#353233" font-weight="normal">1</text>
<circle cx="1043" cy="73" r="5" fill="#1a1718" />
<text x="1056.7" y="80.5" font-size="15.5" text-anchor="start" fill="#353233" font-weight="normal">2</text>
<circle cx="1043" cy="88.4" r="6" fill="#1a1718" />
<text x="1056.7" y="95.9" font-size="15.5" text-anchor="start" fill="#353233" font-weight="normal">3</text>
<circle cx="1043" cy="104" r="6.9" fill="#1a1718" />
<text x="1056.7" y="111.5" font-size="15.5" text-anchor="start" fill="#353233" font-weight="normal">4</text>
<text x="1028.4" y="138.8" font-size="16" fill="#231f20" textLength="86.6" lengthAdjust="spacingAndGlyphs">–log<tspan font-size="13" dy="6">10</tspan><tspan dy="-6"> FDR</tspan></text>
<defs><linearGradient id="fdr" x1="0" y1="1" x2="0" y2="0"><stop offset="0" stop-color="#e6e6e6"/><stop offset="0.125" stop-color="#f4b2a2"/><stop offset="0.25" stop-color="#f07f62"/><stop offset="0.45" stop-color="#ec4a2c"/><stop offset="0.5" stop-color="#e8161d"/><stop offset="0.75" stop-color="#b81c22"/><stop offset="1" stop-color="#861a1e"/></linearGradient></defs>
<rect x="1035.2" y="156.1" width="16.1" height="77.1" fill="url(#fdr)" />
<line x1="1035.2" y1="175.3" x2="1039" y2="175.3" stroke="#fff" stroke-width="1" />
<line x1="1046.9" y1="175.3" x2="1051.3" y2="175.3" stroke="#fff" stroke-width="1" />
<line x1="1035.2" y1="194.7" x2="1039" y2="194.7" stroke="#fff" stroke-width="1" />
<line x1="1046.9" y1="194.7" x2="1051.3" y2="194.7" stroke="#fff" stroke-width="1" />
<line x1="1035.2" y1="214.3" x2="1039" y2="214.3" stroke="#fff" stroke-width="1" />
<line x1="1046.9" y1="214.3" x2="1051.3" y2="214.3" stroke="#fff" stroke-width="1" />
<text x="1058.8" y="161" font-size="15.5" text-anchor="start" fill="#353233" font-weight="normal">4</text>
<text x="1058.8" y="180.8" font-size="15.5" text-anchor="start" fill="#353233" font-weight="normal">3</text>
<text x="1058.8" y="199.7" font-size="15.5" text-anchor="start" fill="#353233" font-weight="normal">2</text>
<text x="1058.8" y="219.1" font-size="15.5" text-anchor="start" fill="#353233" font-weight="normal">1</text>
<text x="1058.8" y="237.6" font-size="15.5" text-anchor="start" fill="#353233" font-weight="normal">0</text>
<rect x="1036" y="252.9" width="11.7" height="11.499999999999972" fill="#ee9a85" />
<text x="1058.3" y="263.7" font-size="14.5" text-anchor="start" fill="#353233" font-weight="normal" textLength="39" lengthAdjust="spacingAndGlyphs">Infant</text>
<rect x="1036" y="268.7" width="11.7" height="11.300000000000011" fill="#e9c43c" />
<text x="1058.3" y="279.3" font-size="14.5" text-anchor="start" fill="#353233" font-weight="normal" textLength="122.1" lengthAdjust="spacingAndGlyphs">Middle childhood</text>
<rect x="1036" y="284.4" width="11.7" height="11.300000000000011" fill="#87c540" />
<text x="1058.3" y="295" font-size="14.5" text-anchor="start" fill="#353233" font-weight="normal" textLength="89.7" lengthAdjust="spacingAndGlyphs">Adolescence</text>
<rect x="1036" y="299.6" width="11.7" height="11.699999999999989" fill="#86cfc3" />
<text x="1058.3" y="310.3" font-size="14.5" text-anchor="start" fill="#353233" font-weight="normal" textLength="108.8" lengthAdjust="spacingAndGlyphs">Early adulthood</text>
<rect x="1036" y="315" width="11.7" height="12" fill="#6670b7" />
<text x="1058.3" y="326.3" font-size="14.5" text-anchor="start" fill="#353233" font-weight="normal" textLength="104.4" lengthAdjust="spacingAndGlyphs">Late adulthood</text>
<defs>
<clipPath id="clipCL"><path d="M153.3,440.6 C155.4,439.5 155.4,437.9 161.7,439.5 C168.0,441.1 183.2,445.9 191.3,450.0 C199.4,454.1 204.7,459.7 210.3,463.8 C215.9,467.9 219.7,470.9 225.0,474.4 C230.3,477.9 236.7,481.1 242.0,485.0 C247.3,488.9 251.5,492.8 256.8,497.7 C262.1,502.6 269.6,509.3 273.8,514.6 C278.0,519.9 280.3,523.8 282.2,529.4 C284.1,535.0 284.7,540.3 285.4,548.4 C286.1,556.5 286.9,569.6 286.4,578.0 C285.9,586.4 283.7,594.0 282.2,599.0 C280.7,604.0 279.7,605.0 277.3,608.0 C274.9,611.0 270.9,613.1 268.0,617.3 C265.1,621.5 262.2,627.3 260.0,633.3 C257.8,639.3 256.2,646.8 254.7,653.3 C253.1,659.8 250.9,666.4 250.7,672.0 C250.5,677.6 251.8,682.4 253.3,686.7 C254.9,691.0 256.7,694.6 260.0,698.0 C263.3,701.4 269.0,704.5 273.3,707.0 C277.6,709.5 281.6,711.3 286.0,713.0 C290.4,714.7 297.1,716.0 299.4,717.3 C301.7,718.6 302.0,720.8 299.6,720.6 C297.2,720.4 289.8,717.6 285.0,716.0 C280.2,714.4 275.5,713.2 271.0,711.0 C266.5,708.8 261.5,705.8 258.0,703.0 C254.5,700.2 252.0,696.8 250.0,694.5 C248.0,692.2 248.1,690.6 245.9,689.0 C243.7,687.4 239.5,687.7 237.0,685.0 C234.5,682.3 232.4,677.3 231.0,673.0 C229.6,668.7 229.7,662.4 228.5,659.0 C227.3,655.6 225.6,653.0 224.0,652.5 C222.4,652.0 220.8,653.8 219.0,656.0 C217.2,658.2 215.1,662.4 213.0,666.0 C210.9,669.6 208.7,674.7 206.4,677.6 C204.1,680.5 201.5,682.2 199.3,683.3 C197.1,684.4 195.9,684.1 193.3,684.0 C190.8,683.9 186.2,682.0 184.0,682.7 C181.8,683.4 181.8,686.2 180.0,688.0 C178.2,689.8 176.0,691.5 173.3,693.3 C170.6,695.1 165.9,698.6 164.0,698.7 C162.1,698.8 163.3,698.2 162.0,694.0 C160.7,689.8 158.1,679.6 156.0,673.3 C153.9,667.0 150.9,662.7 149.3,656.0 C147.8,649.3 147.8,642.6 146.7,633.3 C145.6,624.0 143.4,612.2 142.7,600.0 C141.9,587.8 142.2,573.3 142.2,560.0 C142.2,546.7 142.5,533.3 142.7,520.0 C142.9,506.7 143.0,489.7 143.5,480.0 C144.0,470.3 144.9,467.4 145.8,461.7 C146.7,456.0 147.8,449.5 149.0,446.0 C150.2,442.5 151.2,441.7 153.3,440.6Z"/></clipPath>
<clipPath id="clipCR"><path d="M410.7,480.2 C412.8,480.2 416.4,481.3 418.6,482.4 C420.9,483.5 422.5,484.8 424.2,486.9 C425.9,489.0 427.3,492.0 428.8,494.8 C430.3,497.6 432.2,500.4 433.3,503.8 C434.4,507.2 434.9,511.3 435.5,515.1 C436.1,518.9 436.6,522.6 436.7,526.4 C436.8,530.2 436.5,534.0 436.1,537.7 C435.7,541.5 435.1,545.1 434.4,548.9 C433.7,552.6 432.9,557.3 432.1,560.2 C431.4,563.1 430.2,563.7 429.9,566.5 C429.6,569.3 430.8,573.7 430.4,577.1 C430.0,580.5 428.1,584.2 427.5,587.0 C426.9,589.8 426.5,591.4 426.5,594.1 C426.5,596.8 427.8,600.3 427.6,603.1 C427.4,605.9 426.9,608.9 425.4,611.0 C423.9,613.1 421.1,614.6 418.6,615.5 C416.2,616.4 413.1,616.9 410.7,616.6 C408.3,616.4 406.4,614.4 404.0,614.0 C401.6,613.6 398.1,613.5 396.0,614.5 C393.9,615.5 392.4,617.4 391.5,620.0 C390.6,622.6 391.1,626.0 390.5,630.0 C389.9,634.0 389.0,638.7 387.8,644.1 C386.6,649.5 385.0,656.3 383.5,662.4 C382.0,668.5 381.0,674.7 379.0,680.8 C377.0,686.9 374.7,693.9 371.6,699.1 C368.5,704.3 365.0,708.2 360.6,711.9 C356.2,715.6 350.6,719.0 345.0,721.1 C339.4,723.2 330.1,724.8 326.7,724.8 C323.3,724.8 323.0,722.5 324.8,721.1 C326.6,719.7 333.1,718.6 337.7,716.5 C342.3,714.4 348.0,712.4 352.3,708.3 C356.6,704.2 360.2,697.9 363.3,691.8 C366.4,685.7 369.1,678.0 370.6,671.6 C372.1,665.2 372.2,659.4 372.5,653.3 C372.8,647.2 372.7,640.5 372.5,635.0 C372.3,629.5 372.3,623.6 371.5,620.0 C370.7,616.4 369.3,615.7 367.9,613.2 C366.5,610.8 364.2,608.5 363.3,605.3 C362.4,602.1 362.5,598.0 362.2,594.1 C361.9,590.2 362.6,584.8 361.5,582.0 C360.4,579.2 357.6,578.4 355.5,577.1 C353.4,575.8 349.9,575.2 348.7,574.0 C347.5,572.8 347.4,571.3 348.5,570.0 C349.6,568.7 353.7,567.5 355.0,566.0 C356.3,564.5 357.0,562.8 356.5,561.0 C356.0,559.2 353.8,557.2 352.0,555.0 C350.2,552.8 348.3,549.9 346.0,548.0 C343.7,546.1 340.0,544.9 338.0,543.5 C336.0,542.1 334.2,540.8 334.0,539.8 C333.8,538.8 335.5,537.5 337.0,537.5 C338.5,537.5 341.0,540.2 343.0,540.0 C345.0,539.8 346.6,537.5 349.0,536.5 C351.4,535.5 355.5,535.0 357.7,534.3 C359.9,533.5 360.9,533.3 362.2,532.0 C363.5,530.7 364.5,528.8 365.6,526.4 C366.7,524.0 367.9,520.4 369.0,517.4 C370.1,514.4 371.1,510.8 372.4,508.3 C373.7,505.9 375.0,504.1 376.9,502.7 C378.8,501.3 381.4,500.6 383.6,499.9 C385.9,499.1 388.3,499.2 390.4,498.2 C392.5,497.2 394.1,495.4 396.0,493.7 C397.9,492.0 400.0,489.9 401.7,488.0 C403.4,486.1 404.7,483.7 406.2,482.4 C407.7,481.1 408.6,480.2 410.7,480.2Z"/></clipPath>
<filter id="blur6" x="-50%" y="-50%" width="200%" height="200%"><feGaussianBlur stdDeviation="6"/></filter>
<filter id="blur3" x="-50%" y="-50%" width="200%" height="200%"><feGaussianBlur stdDeviation="3"/></filter>
<linearGradient id="stemg" x1="0" y1="0" x2="0" y2="1"><stop offset="0" stop-color="#f7a12a"/><stop offset="0.45" stop-color="#f2863e"/><stop offset="0.8" stop-color="#e8634f"/><stop offset="1" stop-color="#dc4b63"/></linearGradient>
</defs>
<path d="M153.3,440.6 C155.4,439.5 155.4,437.9 161.7,439.5 C168.0,441.1 183.2,445.9 191.3,450.0 C199.4,454.1 204.7,459.7 210.3,463.8 C215.9,467.9 219.7,470.9 225.0,474.4 C230.3,477.9 236.7,481.1 242.0,485.0 C247.3,488.9 251.5,492.8 256.8,497.7 C262.1,502.6 269.6,509.3 273.8,514.6 C278.0,519.9 280.3,523.8 282.2,529.4 C284.1,535.0 284.7,540.3 285.4,548.4 C286.1,556.5 286.9,569.6 286.4,578.0 C285.9,586.4 283.7,594.0 282.2,599.0 C280.7,604.0 279.7,605.0 277.3,608.0 C274.9,611.0 270.9,613.1 268.0,617.3 C265.1,621.5 262.2,627.3 260.0,633.3 C257.8,639.3 256.2,646.8 254.7,653.3 C253.1,659.8 250.9,666.4 250.7,672.0 C250.5,677.6 251.8,682.4 253.3,686.7 C254.9,691.0 256.7,694.6 260.0,698.0 C263.3,701.4 269.0,704.5 273.3,707.0 C277.6,709.5 281.6,711.3 286.0,713.0 C290.4,714.7 297.1,716.0 299.4,717.3 C301.7,718.6 302.0,720.8 299.6,720.6 C297.2,720.4 289.8,717.6 285.0,716.0 C280.2,714.4 275.5,713.2 271.0,711.0 C266.5,708.8 261.5,705.8 258.0,703.0 C254.5,700.2 252.0,696.8 250.0,694.5 C248.0,692.2 248.1,690.6 245.9,689.0 C243.7,687.4 239.5,687.7 237.0,685.0 C234.5,682.3 232.4,677.3 231.0,673.0 C229.6,668.7 229.7,662.4 228.5,659.0 C227.3,655.6 225.6,653.0 224.0,652.5 C222.4,652.0 220.8,653.8 219.0,656.0 C217.2,658.2 215.1,662.4 213.0,666.0 C210.9,669.6 208.7,674.7 206.4,677.6 C204.1,680.5 201.5,682.2 199.3,683.3 C197.1,684.4 195.9,684.1 193.3,684.0 C190.8,683.9 186.2,682.0 184.0,682.7 C181.8,683.4 181.8,686.2 180.0,688.0 C178.2,689.8 176.0,691.5 173.3,693.3 C170.6,695.1 165.9,698.6 164.0,698.7 C162.1,698.8 163.3,698.2 162.0,694.0 C160.7,689.8 158.1,679.6 156.0,673.3 C153.9,667.0 150.9,662.7 149.3,656.0 C147.8,649.3 147.8,642.6 146.7,633.3 C145.6,624.0 143.4,612.2 142.7,600.0 C141.9,587.8 142.2,573.3 142.2,560.0 C142.2,546.7 142.5,533.3 142.7,520.0 C142.9,506.7 143.0,489.7 143.5,480.0 C144.0,470.3 144.9,467.4 145.8,461.7 C146.7,456.0 147.8,449.5 149.0,446.0 C150.2,442.5 151.2,441.7 153.3,440.6Z" fill="#342b8b"/>
<filter id="blur1" x="-10%" y="-10%" width="120%" height="120%"><feGaussianBlur stdDeviation="1.8"/></filter>
<g clip-path="url(#clipCL)">
<g filter="url(#blur1)">
<polygon points="234,498 262,503 290,540 290,578 258,578 234,560" fill="#5a2d98"/>
<polygon points="186,520 216,512 216,556 186,556" fill="#482d94"/>
<polygon points="160,556 216,554 236,558 258,577 258,590 236,600 220,606 200,612 180,600 162,585" fill="#672d96"/>
<polygon points="210,556 235,558 236,588 215,590" fill="#7b2d97"/>
<polygon points="220,573 258,576 262,612 240,612 222,606" fill="#872d97"/>
<polygon points="257,576 290,570 290,617 262,617" fill="#40309a"/>
<polygon points="222,606 264,612 264,640 258,670 226,670 224,640" fill="#a52a95"/>
<polygon points="232,645 262,645 258,694 236,692" fill="#b73099"/>
<polygon points="189,610 222,606 226,648 222,660 190,660" fill="#5c2d98"/>
<polygon points="162,627 192,627 192,662 162,662" fill="#542d97"/>
<polygon points="140,660 224,658 224,705 140,705" fill="#4a2d94"/>
</g>
<path d="M248,684 L300,712 L305,725 L240,700Z" fill="#d3437d"/>
</g>
<circle cx="221" cy="661" r="1.4" fill="#8f3a9c" stroke="#444" stroke-width="0.4"/>
<circle cx="225" cy="666" r="1.4" fill="#8f3a9c" stroke="#444" stroke-width="0.4"/>
<circle cx="219" cy="671" r="1.4" fill="#8f3a9c" stroke="#444" stroke-width="0.4"/>
<circle cx="227" cy="676" r="1.4" fill="#8f3a9c" stroke="#444" stroke-width="0.4"/>
<circle cx="223" cy="681" r="1.4" fill="#8f3a9c" stroke="#444" stroke-width="0.4"/>
<circle cx="216" cy="669" r="1.4" fill="#8f3a9c" stroke="#444" stroke-width="0.4"/>
<circle cx="229" cy="666" r="1.4" fill="#8f3a9c" stroke="#444" stroke-width="0.4"/>
<circle cx="212" cy="676" r="1.4" fill="#8f3a9c" stroke="#444" stroke-width="0.4"/>
<circle cx="230" cy="681" r="1.4" fill="#8f3a9c" stroke="#444" stroke-width="0.4"/>
<circle cx="217" cy="679" r="1.4" fill="#8f3a9c" stroke="#444" stroke-width="0.4"/>
<circle cx="224" cy="672" r="1.4" fill="#8f3a9c" stroke="#444" stroke-width="0.4"/>
<path d="M410.7,480.2 C412.8,480.2 416.4,481.3 418.6,482.4 C420.9,483.5 422.5,484.8 424.2,486.9 C425.9,489.0 427.3,492.0 428.8,494.8 C430.3,497.6 432.2,500.4 433.3,503.8 C434.4,507.2 434.9,511.3 435.5,515.1 C436.1,518.9 436.6,522.6 436.7,526.4 C436.8,530.2 436.5,534.0 436.1,537.7 C435.7,541.5 435.1,545.1 434.4,548.9 C433.7,552.6 432.9,557.3 432.1,560.2 C431.4,563.1 430.2,563.7 429.9,566.5 C429.6,569.3 430.8,573.7 430.4,577.1 C430.0,580.5 428.1,584.2 427.5,587.0 C426.9,589.8 426.5,591.4 426.5,594.1 C426.5,596.8 427.8,600.3 427.6,603.1 C427.4,605.9 426.9,608.9 425.4,611.0 C423.9,613.1 421.1,614.6 418.6,615.5 C416.2,616.4 413.1,616.9 410.7,616.6 C408.3,616.4 406.4,614.4 404.0,614.0 C401.6,613.6 398.1,613.5 396.0,614.5 C393.9,615.5 392.4,617.4 391.5,620.0 C390.6,622.6 391.1,626.0 390.5,630.0 C389.9,634.0 389.0,638.7 387.8,644.1 C386.6,649.5 385.0,656.3 383.5,662.4 C382.0,668.5 381.0,674.7 379.0,680.8 C377.0,686.9 374.7,693.9 371.6,699.1 C368.5,704.3 365.0,708.2 360.6,711.9 C356.2,715.6 350.6,719.0 345.0,721.1 C339.4,723.2 330.1,724.8 326.7,724.8 C323.3,724.8 323.0,722.5 324.8,721.1 C326.6,719.7 333.1,718.6 337.7,716.5 C342.3,714.4 348.0,712.4 352.3,708.3 C356.6,704.2 360.2,697.9 363.3,691.8 C366.4,685.7 369.1,678.0 370.6,671.6 C372.1,665.2 372.2,659.4 372.5,653.3 C372.8,647.2 372.7,640.5 372.5,635.0 C372.3,629.5 372.3,623.6 371.5,620.0 C370.7,616.4 369.3,615.7 367.9,613.2 C366.5,610.8 364.2,608.5 363.3,605.3 C362.4,602.1 362.5,598.0 362.2,594.1 C361.9,590.2 362.6,584.8 361.5,582.0 C360.4,579.2 357.6,578.4 355.5,577.1 C353.4,575.8 349.9,575.2 348.7,574.0 C347.5,572.8 347.4,571.3 348.5,570.0 C349.6,568.7 353.7,567.5 355.0,566.0 C356.3,564.5 357.0,562.8 356.5,561.0 C356.0,559.2 353.8,557.2 352.0,555.0 C350.2,552.8 348.3,549.9 346.0,548.0 C343.7,546.1 340.0,544.9 338.0,543.5 C336.0,542.1 334.2,540.8 334.0,539.8 C333.8,538.8 335.5,537.5 337.0,537.5 C338.5,537.5 341.0,540.2 343.0,540.0 C345.0,539.8 346.6,537.5 349.0,536.5 C351.4,535.5 355.5,535.0 357.7,534.3 C359.9,533.5 360.9,533.3 362.2,532.0 C363.5,530.7 364.5,528.8 365.6,526.4 C366.7,524.0 367.9,520.4 369.0,517.4 C370.1,514.4 371.1,510.8 372.4,508.3 C373.7,505.9 375.0,504.1 376.9,502.7 C378.8,501.3 381.4,500.6 383.6,499.9 C385.9,499.1 388.3,499.2 390.4,498.2 C392.5,497.2 394.1,495.4 396.0,493.7 C397.9,492.0 400.0,489.9 401.7,488.0 C403.4,486.1 404.7,483.7 406.2,482.4 C407.7,481.1 408.6,480.2 410.7,480.2Z" fill="#f6a82a"/>
<g clip-path="url(#clipCR)">
<rect x="315" y="598" width="125" height="132" fill="url(#stemg)"/>
<g filter="url(#blur3)">
<path d="M399,478 L440,478 L440,585 L422,582 L404,555 L399,540 L403,520Z" fill="#ece42a"/>
<path d="M395,550 L405,555 L422,582 L440,585 L440,620 L400,620 Z" fill="#f6c028"/>
<path d="M360,590 L395,585 L400,620 L360,620Z" fill="#f49a2e"/>
</g></g>
<path d="M303.5,717.8 C310,719 316,720.5 322.5,721.5 L322,724 C315,723.5 309,722 303.5,720.5Z" fill="#d84a6c"/>
<defs><linearGradient id="spfade" x1="0" y1="0" x2="0" y2="1"><stop offset="0" stop-color="#fff" stop-opacity="0.28"/><stop offset="0.25" stop-color="#fff" stop-opacity="0.2"/><stop offset="0.5" stop-color="#fff" stop-opacity="0.08"/><stop offset="1" stop-color="#fff" stop-opacity="0.08"/></linearGradient><mask id="spmask"><rect x="140" y="435" width="150" height="265" fill="url(#spfade)"/></mask></defs><g clip-path="url(#clipCL)"><g mask="url(#spmask)"><rect x="140" y="435" width="150" height="265" fill="#000" filter="url(#speck)"/></g></g>
<path d="M153.3,440.6 C155.4,439.5 155.4,437.9 161.7,439.5 C168.0,441.1 183.2,445.9 191.3,450.0 C199.4,454.1 204.7,459.7 210.3,463.8 C215.9,467.9 219.7,470.9 225.0,474.4 C230.3,477.9 236.7,481.1 242.0,485.0 C247.3,488.9 251.5,492.8 256.8,497.7 C262.1,502.6 269.6,509.3 273.8,514.6 C278.0,519.9 280.3,523.8 282.2,529.4 C284.1,535.0 284.7,540.3 285.4,548.4 C286.1,556.5 286.9,569.6 286.4,578.0 C285.9,586.4 283.7,594.0 282.2,599.0 C280.7,604.0 279.7,605.0 277.3,608.0 C274.9,611.0 270.9,613.1 268.0,617.3 C265.1,621.5 262.2,627.3 260.0,633.3 C257.8,639.3 256.2,646.8 254.7,653.3 C253.1,659.8 250.9,666.4 250.7,672.0 C250.5,677.6 251.8,682.4 253.3,686.7 C254.9,691.0 256.7,694.6 260.0,698.0 C263.3,701.4 269.0,704.5 273.3,707.0 C277.6,709.5 281.6,711.3 286.0,713.0 C290.4,714.7 297.1,716.0 299.4,717.3 C301.7,718.6 302.0,720.8 299.6,720.6 C297.2,720.4 289.8,717.6 285.0,716.0 C280.2,714.4 275.5,713.2 271.0,711.0 C266.5,708.8 261.5,705.8 258.0,703.0 C254.5,700.2 252.0,696.8 250.0,694.5 C248.0,692.2 248.1,690.6 245.9,689.0 C243.7,687.4 239.5,687.7 237.0,685.0 C234.5,682.3 232.4,677.3 231.0,673.0 C229.6,668.7 229.7,662.4 228.5,659.0 C227.3,655.6 225.6,653.0 224.0,652.5 C222.4,652.0 220.8,653.8 219.0,656.0 C217.2,658.2 215.1,662.4 213.0,666.0 C210.9,669.6 208.7,674.7 206.4,677.6 C204.1,680.5 201.5,682.2 199.3,683.3 C197.1,684.4 195.9,684.1 193.3,684.0 C190.8,683.9 186.2,682.0 184.0,682.7 C181.8,683.4 181.8,686.2 180.0,688.0 C178.2,689.8 176.0,691.5 173.3,693.3 C170.6,695.1 165.9,698.6 164.0,698.7 C162.1,698.8 163.3,698.2 162.0,694.0 C160.7,689.8 158.1,679.6 156.0,673.3 C153.9,667.0 150.9,662.7 149.3,656.0 C147.8,649.3 147.8,642.6 146.7,633.3 C145.6,624.0 143.4,612.2 142.7,600.0 C141.9,587.8 142.2,573.3 142.2,560.0 C142.2,546.7 142.5,533.3 142.7,520.0 C142.9,506.7 143.0,489.7 143.5,480.0 C144.0,470.3 144.9,467.4 145.8,461.7 C146.7,456.0 147.8,449.5 149.0,446.0 C150.2,442.5 151.2,441.7 153.3,440.6Z" fill="none" stroke="#2a2a2a" stroke-width="0.9" filter="url(#rough)"/>
<path d="M410.7,480.2 C412.8,480.2 416.4,481.3 418.6,482.4 C420.9,483.5 422.5,484.8 424.2,486.9 C425.9,489.0 427.3,492.0 428.8,494.8 C430.3,497.6 432.2,500.4 433.3,503.8 C434.4,507.2 434.9,511.3 435.5,515.1 C436.1,518.9 436.6,522.6 436.7,526.4 C436.8,530.2 436.5,534.0 436.1,537.7 C435.7,541.5 435.1,545.1 434.4,548.9 C433.7,552.6 432.9,557.3 432.1,560.2 C431.4,563.1 430.2,563.7 429.9,566.5 C429.6,569.3 430.8,573.7 430.4,577.1 C430.0,580.5 428.1,584.2 427.5,587.0 C426.9,589.8 426.5,591.4 426.5,594.1 C426.5,596.8 427.8,600.3 427.6,603.1 C427.4,605.9 426.9,608.9 425.4,611.0 C423.9,613.1 421.1,614.6 418.6,615.5 C416.2,616.4 413.1,616.9 410.7,616.6 C408.3,616.4 406.4,614.4 404.0,614.0 C401.6,613.6 398.1,613.5 396.0,614.5 C393.9,615.5 392.4,617.4 391.5,620.0 C390.6,622.6 391.1,626.0 390.5,630.0 C389.9,634.0 389.0,638.7 387.8,644.1 C386.6,649.5 385.0,656.3 383.5,662.4 C382.0,668.5 381.0,674.7 379.0,680.8 C377.0,686.9 374.7,693.9 371.6,699.1 C368.5,704.3 365.0,708.2 360.6,711.9 C356.2,715.6 350.6,719.0 345.0,721.1 C339.4,723.2 330.1,724.8 326.7,724.8 C323.3,724.8 323.0,722.5 324.8,721.1 C326.6,719.7 333.1,718.6 337.7,716.5 C342.3,714.4 348.0,712.4 352.3,708.3 C356.6,704.2 360.2,697.9 363.3,691.8 C366.4,685.7 369.1,678.0 370.6,671.6 C372.1,665.2 372.2,659.4 372.5,653.3 C372.8,647.2 372.7,640.5 372.5,635.0 C372.3,629.5 372.3,623.6 371.5,620.0 C370.7,616.4 369.3,615.7 367.9,613.2 C366.5,610.8 364.2,608.5 363.3,605.3 C362.4,602.1 362.5,598.0 362.2,594.1 C361.9,590.2 362.6,584.8 361.5,582.0 C360.4,579.2 357.6,578.4 355.5,577.1 C353.4,575.8 349.9,575.2 348.7,574.0 C347.5,572.8 347.4,571.3 348.5,570.0 C349.6,568.7 353.7,567.5 355.0,566.0 C356.3,564.5 357.0,562.8 356.5,561.0 C356.0,559.2 353.8,557.2 352.0,555.0 C350.2,552.8 348.3,549.9 346.0,548.0 C343.7,546.1 340.0,544.9 338.0,543.5 C336.0,542.1 334.2,540.8 334.0,539.8 C333.8,538.8 335.5,537.5 337.0,537.5 C338.5,537.5 341.0,540.2 343.0,540.0 C345.0,539.8 346.6,537.5 349.0,536.5 C351.4,535.5 355.5,535.0 357.7,534.3 C359.9,533.5 360.9,533.3 362.2,532.0 C363.5,530.7 364.5,528.8 365.6,526.4 C366.7,524.0 367.9,520.4 369.0,517.4 C370.1,514.4 371.1,510.8 372.4,508.3 C373.7,505.9 375.0,504.1 376.9,502.7 C378.8,501.3 381.4,500.6 383.6,499.9 C385.9,499.1 388.3,499.2 390.4,498.2 C392.5,497.2 394.1,495.4 396.0,493.7 C397.9,492.0 400.0,489.9 401.7,488.0 C403.4,486.1 404.7,483.7 406.2,482.4 C407.7,481.1 408.6,480.2 410.7,480.2Z" fill="none" stroke="#2a2a2a" stroke-width="0.9" filter="url(#rough)"/>
<path d="M303.5,717.8 C310,719 316,720.5 322.5,721.5 L322,724 C315,723.5 309,722 303.5,720.5Z" fill="none" stroke="#2a2a2a" stroke-width="0.6"/>
<text x="161.3" y="482.9" font-size="11.5" text-anchor="start" fill="#eee" font-weight="normal" textLength="54.3" lengthAdjust="spacingAndGlyphs">OL type II</text>
<text x="183.3" y="574.8" font-size="11.5" text-anchor="start" fill="#eee" font-weight="normal" textLength="50.7" lengthAdjust="spacingAndGlyphs">OL type I</text>
<text x="372.5" y="533.2" font-size="11.5" text-anchor="start" fill="#333" font-weight="normal" textLength="60.1" lengthAdjust="spacingAndGlyphs">OPC type I</text>
<text x="302.2" y="671.7" font-size="11.5" text-anchor="start" fill="#333" font-weight="normal" textLength="64" lengthAdjust="spacingAndGlyphs">OPC type II</text>
<text x="277.1" y="460.6" font-size="17.5" text-anchor="start" fill="#353233" font-weight="normal" textLength="35.3" lengthAdjust="spacingAndGlyphs">RNA</text>
<defs><linearGradient id="ptc" x1="0" y1="1" x2="0" y2="0"><stop offset="0" stop-color="#f4ec78"/><stop offset="0.2" stop-color="#fcc46e"/><stop offset="0.4" stop-color="#f4987a"/><stop offset="0.55" stop-color="#dd7a8e"/><stop offset="0.7" stop-color="#c466a4"/><stop offset="0.85" stop-color="#8f5ca8"/><stop offset="1" stop-color="#585a9c"/></linearGradient></defs>
<rect x="58.1" y="427.9" width="10.6" height="160.7" fill="url(#ptc)" stroke="#555" stroke-width="0.8" />
<line x1="68.7" y1="440.7" x2="75.6" y2="440.7" stroke="#555" stroke-width="1" />
<text x="83.9" y="445.9" font-size="15" text-anchor="start" fill="#353233" font-weight="normal" textLength="18.4" lengthAdjust="spacingAndGlyphs">40</text>
<line x1="68.7" y1="477.9" x2="75.6" y2="477.9" stroke="#555" stroke-width="1" />
<text x="83.9" y="483.09999999999997" font-size="15" text-anchor="start" fill="#353233" font-weight="normal" textLength="18.4" lengthAdjust="spacingAndGlyphs">30</text>
<line x1="68.7" y1="514.7" x2="75.6" y2="514.7" stroke="#555" stroke-width="1" />
<text x="83.9" y="519.9000000000001" font-size="15" text-anchor="start" fill="#353233" font-weight="normal" textLength="18.4" lengthAdjust="spacingAndGlyphs">20</text>
<line x1="68.7" y1="551.8" x2="75.6" y2="551.8" stroke="#555" stroke-width="1" />
<text x="83.9" y="557.0" font-size="15" text-anchor="start" fill="#353233" font-weight="normal" textLength="18.4" lengthAdjust="spacingAndGlyphs">10</text>
<line x1="68.7" y1="588.4" x2="75.6" y2="588.4" stroke="#555" stroke-width="1" />
<text x="83.9" y="593.6" font-size="15" text-anchor="start" fill="#353233" font-weight="normal">0</text>
<text x="50.5" y="556.3" font-size="17.5" text-anchor="start" fill="#353233" font-weight="normal" textLength="97.6" lengthAdjust="spacingAndGlyphs" transform="rotate(-90 50.5 556.3)">Pseudotime</text>
<path d="M120.7,722 L120.7,674 M120.7,722 L165,722" stroke="#3d5574" stroke-width="2.6" fill="none"/>
<path d="M120.7,668 L116.3,678 L125.1,678Z M171,722 L161,717.6 L161,726.4Z" fill="#3d5574"/>
<text x="118" y="743" font-size="16" text-anchor="start" fill="#353233" font-weight="normal" textLength="55" lengthAdjust="spacingAndGlyphs">UMAP1</text>
<text x="111.5" y="724" font-size="16" text-anchor="start" fill="#353233" font-weight="normal" textLength="54" lengthAdjust="spacingAndGlyphs" transform="rotate(-90 111.5 724)">UMAP2</text>
<line x1="538.2" y1="454.8" x2="538.2" y2="660.7" stroke="#555" stroke-width="1" />
<line x1="537.7" y1="660.2" x2="772.3" y2="660.2" stroke="#555" stroke-width="1" />
<line x1="532.3" y1="650.9" x2="538.2" y2="650.9" stroke="#555" stroke-width="1" />
<text x="524.6" y="656.8" font-size="15.5" text-anchor="end" fill="#353233" font-weight="normal" textLength="9.5" lengthAdjust="spacingAndGlyphs">0</text>
<line x1="532.3" y1="608.4" x2="538.2" y2="608.4" stroke="#555" stroke-width="1" />
<text x="524.6" y="614.3" font-size="15.5" text-anchor="end" fill="#353233" font-weight="normal" textLength="18.2" lengthAdjust="spacingAndGlyphs">10</text>
<line x1="532.3" y1="565.9" x2="538.2" y2="565.9" stroke="#555" stroke-width="1" />
<text x="524.6" y="571.8" font-size="15.5" text-anchor="end" fill="#353233" font-weight="normal" textLength="18.2" lengthAdjust="spacingAndGlyphs">20</text>
<line x1="532.3" y1="523.4" x2="538.2" y2="523.4" stroke="#555" stroke-width="1" />
<text x="524.6" y="529.3" font-size="15.5" text-anchor="end" fill="#353233" font-weight="normal" textLength="18.2" lengthAdjust="spacingAndGlyphs">30</text>
<line x1="532.3" y1="480.9" x2="538.2" y2="480.9" stroke="#555" stroke-width="1" />
<text x="524.6" y="486.79999999999995" font-size="15.5" text-anchor="end" fill="#353233" font-weight="normal" textLength="18.2" lengthAdjust="spacingAndGlyphs">40</text>
<text x="490.3" y="556.9" font-size="17.8" text-anchor="middle" fill="#353233" font-weight="normal" textLength="96.7" lengthAdjust="spacingAndGlyphs" transform="rotate(-90 490.3 556.9)">Pseudotime</text>
<line x1="571.4" y1="604.15" x2="571.4" y2="621.15" stroke="#555" stroke-width="1" />
<line x1="571.4" y1="640.275" x2="571.4" y2="650.9" stroke="#555" stroke-width="1" />
<rect x="550.7" y="621.15" width="41.89999999999998" height="19.125" fill="#5c80bc" stroke="#555" stroke-width="1" />
<line x1="550.7" y1="627.525" x2="592.6" y2="627.525" stroke="#555" stroke-width="1.2" />
<ellipse cx="571.4" cy="463.9" rx="2.9" ry="2.3" fill="#444"/>
<ellipse cx="571.4" cy="485.1" rx="2.9" ry="2.3" fill="#444"/>
<ellipse cx="571.4" cy="487.3" rx="2.9" ry="2.3" fill="#444"/>
<ellipse cx="571.4" cy="489.4" rx="2.9" ry="2.3" fill="#444"/>
<ellipse cx="571.4" cy="491.5" rx="2.9" ry="2.3" fill="#444"/>
<ellipse cx="571.4" cy="495.8" rx="2.9" ry="2.3" fill="#444"/>
<ellipse cx="571.4" cy="561.6" rx="2.9" ry="2.3" fill="#444"/>
<line x1="571.4" y1="660.2" x2="571.4" y2="665.7" stroke="#555" stroke-width="1" />
<line x1="627.2" y1="563.775" x2="627.2" y2="582.4749999999999" stroke="#555" stroke-width="1" />
<line x1="627.2" y1="599.475" x2="627.2" y2="619.875" stroke="#555" stroke-width="1" />
<rect x="606.5" y="582.4749999999999" width="41.89999999999998" height="17.000000000000114" fill="#c6d4ec" stroke="#555" stroke-width="1" />
<line x1="606.5" y1="592.25" x2="648.4" y2="592.25" stroke="#555" stroke-width="1.2" />
<ellipse cx="627.2" cy="632.2" rx="2.9" ry="2.3" fill="#444"/>
<line x1="627.2" y1="660.2" x2="627.2" y2="665.7" stroke="#555" stroke-width="1" />
<line x1="683.0" y1="470.275" x2="683.0" y2="483.875" stroke="#555" stroke-width="1" />
<line x1="683.0" y1="506.4" x2="683.0" y2="539.125" stroke="#555" stroke-width="1" />
<rect x="662.6" y="483.875" width="41.10000000000002" height="22.524999999999977" fill="#b97fbc" stroke="#555" stroke-width="1" />
<line x1="662.6" y1="493.65" x2="703.7" y2="493.65" stroke="#555" stroke-width="1.2" />
<ellipse cx="683.0" cy="540.4" rx="2.9" ry="2.3" fill="#444"/>
<ellipse cx="683.0" cy="542.5" rx="2.9" ry="2.3" fill="#444"/>
<ellipse cx="683.0" cy="544.6" rx="2.9" ry="2.3" fill="#444"/>
<ellipse cx="683.0" cy="546.8" rx="2.9" ry="2.3" fill="#444"/>
<ellipse cx="683.0" cy="548.9" rx="2.9" ry="2.3" fill="#444"/>
<ellipse cx="683.0" cy="554.0" rx="2.9" ry="2.3" fill="#444"/>
<ellipse cx="683.0" cy="556.1" rx="2.9" ry="2.3" fill="#444"/>
<ellipse cx="683.0" cy="558.2" rx="2.9" ry="2.3" fill="#444"/>
<ellipse cx="683.0" cy="560.4" rx="2.9" ry="2.3" fill="#444"/>
<ellipse cx="683.0" cy="562.5" rx="2.9" ry="2.3" fill="#444"/>
<ellipse cx="683.0" cy="566.3" rx="2.9" ry="2.3" fill="#444"/>
<ellipse cx="683.0" cy="568.5" rx="2.9" ry="2.3" fill="#444"/>
<ellipse cx="683.0" cy="573.5" rx="2.9" ry="2.3" fill="#444"/>
<ellipse cx="683.0" cy="587.6" rx="2.9" ry="2.3" fill="#444"/>
<ellipse cx="683.0" cy="633.9" rx="2.9" ry="2.3" fill="#444"/>
<line x1="683.0" y1="660.2" x2="683.0" y2="665.7" stroke="#555" stroke-width="1" />
<line x1="739.1" y1="463.9" x2="739.1" y2="465.17499999999995" stroke="#555" stroke-width="1" />
<line x1="739.1" y1="474.95" x2="739.1" y2="480.9" stroke="#555" stroke-width="1" />
<rect x="717.3" y="465.17499999999995" width="42.200000000000045" height="9.775000000000034" fill="#e6d4ea" stroke="#555" stroke-width="1" />
<line x1="717.3" y1="470.7" x2="759.5" y2="470.7" stroke="#555" stroke-width="1.2" />
<line x1="739.1" y1="660.2" x2="739.1" y2="665.7" stroke="#555" stroke-width="1" />
<text x="579.9" y="681.3" font-size="17.5" text-anchor="end" fill="#353233" textLength="89" lengthAdjust="spacingAndGlyphs" transform="rotate(-45 579.9 681.3)">OPC type I</text>
<text x="635.7" y="681.3" font-size="17.5" text-anchor="end" fill="#353233" textLength="94" lengthAdjust="spacingAndGlyphs" transform="rotate(-45 635.7 681.3)">OPC type II</text>
<text x="691.5" y="681.3" font-size="17.5" text-anchor="end" fill="#353233" textLength="76" lengthAdjust="spacingAndGlyphs" transform="rotate(-45 691.5 681.3)">OL type I</text>
<text x="747.6" y="681.3" font-size="17.5" text-anchor="end" fill="#353233" textLength="80" lengthAdjust="spacingAndGlyphs" transform="rotate(-45 747.6 681.3)">OL type II</text>
<line x1="862.8" y1="451.4" x2="862.8" y2="660.7" stroke="#555" stroke-width="1" />
<line x1="862.3" y1="660.2" x2="1120.7" y2="660.2" stroke="#555" stroke-width="1" />
<line x1="856.8" y1="650.6" x2="862.8" y2="650.6" stroke="#555" stroke-width="1" />
<text x="848.6" y="655.8000000000001" font-size="14" text-anchor="end" fill="#353233" font-weight="normal" textLength="8.5" lengthAdjust="spacingAndGlyphs">0</text>
<line x1="856.8" y1="605.4" x2="862.8" y2="605.4" stroke="#555" stroke-width="1" />
<text x="848.6" y="610.6" font-size="14" text-anchor="end" fill="#353233" font-weight="normal" textLength="17.8" lengthAdjust="spacingAndGlyphs">10</text>
<line x1="856.8" y1="560.2" x2="862.8" y2="560.2" stroke="#555" stroke-width="1" />
<text x="848.6" y="565.4000000000001" font-size="14" text-anchor="end" fill="#353233" font-weight="normal" textLength="17.8" lengthAdjust="spacingAndGlyphs">20</text>
<line x1="856.8" y1="515.0" x2="862.8" y2="515.0" stroke="#555" stroke-width="1" />
<text x="848.6" y="520.2" font-size="14" text-anchor="end" fill="#353233" font-weight="normal" textLength="17.8" lengthAdjust="spacingAndGlyphs">30</text>
<line x1="856.8" y1="469.80000000000007" x2="862.8" y2="469.80000000000007" stroke="#555" stroke-width="1" />
<text x="848.6" y="475.00000000000006" font-size="14" text-anchor="end" fill="#353233" font-weight="normal" textLength="17.8" lengthAdjust="spacingAndGlyphs">40</text>
<text x="817.8" y="555.1" font-size="17.6" text-anchor="middle" fill="#353233" font-weight="normal" textLength="97.2" lengthAdjust="spacingAndGlyphs" transform="rotate(-90 817.8 555.1)">Pseudotime</text>
<line x1="892.5" y1="460.76000000000005" x2="892.5" y2="524.0400000000001" stroke="#555" stroke-width="1" />
<line x1="892.5" y1="628.0" x2="892.5" y2="650.6" stroke="#555" stroke-width="1" />
<rect x="873.7" y="524.0400000000001" width="37.6" height="103.95999999999992" fill="#ee9b86" stroke="#333" stroke-width="1" />
<line x1="873.7" y1="614.44" x2="911.3" y2="614.44" stroke="#333" stroke-width="1.2" />
<line x1="892.5" y1="660.2" x2="892.5" y2="665.7" stroke="#555" stroke-width="1" />
<line x1="942.4" y1="460.76000000000005" x2="942.4" y2="475.22400000000005" stroke="#555" stroke-width="1" />
<line x1="942.4" y1="613.988" x2="942.4" y2="650.6" stroke="#555" stroke-width="1" />
<rect x="923.6" y="475.22400000000005" width="37.6" height="138.764" fill="#e9c43d" stroke="#333" stroke-width="1" />
<line x1="923.6" y1="489.68800000000005" x2="961.1999999999999" y2="489.68800000000005" stroke="#333" stroke-width="1.2" />
<line x1="942.4" y1="660.2" x2="942.4" y2="665.7" stroke="#555" stroke-width="1" />
<line x1="992.3" y1="460.76000000000005" x2="992.3" y2="476.58000000000004" stroke="#555" stroke-width="1" />
<line x1="992.3" y1="616.248" x2="992.3" y2="650.6" stroke="#555" stroke-width="1" />
<rect x="973.5" y="476.58000000000004" width="37.6" height="139.668" fill="#87c540" stroke="#333" stroke-width="1" />
<line x1="973.5" y1="492.85200000000003" x2="1011.0999999999999" y2="492.85200000000003" stroke="#333" stroke-width="1.2" />
<line x1="992.3" y1="660.2" x2="992.3" y2="665.7" stroke="#555" stroke-width="1" />
<line x1="1041.8" y1="460.76000000000005" x2="1041.8" y2="476.58000000000004" stroke="#555" stroke-width="1" />
<line x1="1041.8" y1="618.96" x2="1041.8" y2="650.6" stroke="#555" stroke-width="1" />
<rect x="1023.0" y="476.58000000000004" width="37.6" height="142.38" fill="#87cfc4" stroke="#333" stroke-width="1" />
<line x1="1023.0" y1="499.63200000000006" x2="1060.6" y2="499.63200000000006" stroke="#333" stroke-width="1.2" />
<line x1="1041.8" y1="660.2" x2="1041.8" y2="665.7" stroke="#555" stroke-width="1" />
<line x1="1091.3" y1="460.76000000000005" x2="1091.3" y2="474.32000000000005" stroke="#555" stroke-width="1" />
<line x1="1091.3" y1="508.22" x2="1091.3" y2="555.6800000000001" stroke="#555" stroke-width="1" />
<rect x="1072.5" y="474.32000000000005" width="37.6" height="33.89999999999998" fill="#6670b7" stroke="#333" stroke-width="1" />
<line x1="1072.5" y1="488.78400000000005" x2="1110.1" y2="488.78400000000005" stroke="#333" stroke-width="1.2" />
<line x1="1091.3" y1="660.2" x2="1091.3" y2="665.7" stroke="#555" stroke-width="1" />
<text x="902.8" y="681" font-size="16.3" text-anchor="end" fill="#353233" textLength="49" lengthAdjust="spacingAndGlyphs" transform="rotate(-45 902.8 681)">Infant</text>
<text x="952.6999999999999" y="681" font-size="16.3" text-anchor="end" fill="#353233" textLength="149" lengthAdjust="spacingAndGlyphs" transform="rotate(-45 952.6999999999999 681)">Middle childhood</text>
<text x="1002.5999999999999" y="681" font-size="16.3" text-anchor="end" fill="#353233" textLength="108" lengthAdjust="spacingAndGlyphs" transform="rotate(-45 1002.5999999999999 681)">Adolescence</text>
<text x="1052.1" y="681" font-size="16.3" text-anchor="end" fill="#353233" textLength="134" lengthAdjust="spacingAndGlyphs" transform="rotate(-45 1052.1 681)">Early adulthood</text>
<text x="1101.6" y="681" font-size="16.3" text-anchor="end" fill="#353233" textLength="127" lengthAdjust="spacingAndGlyphs" transform="rotate(-45 1101.6 681)">Late adulthood</text>
<rect x="1089" y="569.2" width="5.6" height="16.5" rx="2.8" fill="#4a4a4a" stroke="#1f1f1f" stroke-width="0.9"/>
<rect x="1089" y="586.2" width="5.6" height="16.8" rx="2.8" fill="#4a4a4a" stroke="#1f1f1f" stroke-width="0.9"/>
<rect x="1089" y="603.6" width="5.6" height="7.0" rx="2.8" fill="#4a4a4a" stroke="#1f1f1f" stroke-width="0.9"/>
<rect x="1089" y="611.2" width="5.6" height="42.5" rx="2.8" fill="#4a4a4a" stroke="#1f1f1f" stroke-width="0.9"/>
<line x1="112.6" y1="812.2" x2="112.6" y2="1092.2" stroke="#555" stroke-width="1" />
<line x1="112.1" y1="1091.75" x2="384.25" y2="1091.75" stroke="#555" stroke-width="1" />
<line x1="106.8" y1="821.4" x2="112.6" y2="821.4" stroke="#555" stroke-width="1" />
<text x="100" y="827.0" font-size="15" text-anchor="end" fill="#353233" font-weight="normal" textLength="22.5" lengthAdjust="spacingAndGlyphs">0.4</text>
<line x1="106.8" y1="915.1" x2="112.6" y2="915.1" stroke="#555" stroke-width="1" />
<text x="100" y="920.7" font-size="15" text-anchor="end" fill="#353233" font-weight="normal" textLength="22.5" lengthAdjust="spacingAndGlyphs">0.2</text>
<line x1="106.8" y1="1008.9" x2="112.6" y2="1008.9" stroke="#555" stroke-width="1" />
<text x="100" y="1014.5" font-size="15" text-anchor="end" fill="#353233" font-weight="normal" textLength="9" lengthAdjust="spacingAndGlyphs">0</text>
<line x1="106.8" y1="1091.6" x2="112.6" y2="1091.6" stroke="#555" stroke-width="1" />
<text x="100" y="1097.1999999999998" font-size="15" text-anchor="end" fill="#353233" font-weight="normal" textLength="29.7" lengthAdjust="spacingAndGlyphs">−0.2</text>
<defs><linearGradient id="pte" x1="0" y1="0" x2="1" y2="0"><stop offset="0" stop-color="#f3ee7d"/><stop offset="0.12" stop-color="#fcd06c"/><stop offset="0.25" stop-color="#f9b06c"/><stop offset="0.38" stop-color="#ef9578"/><stop offset="0.5" stop-color="#dc7f8c"/><stop offset="0.6" stop-color="#c869a3"/><stop offset="0.7" stop-color="#b062aa"/><stop offset="0.8" stop-color="#8c5ca8"/><stop offset="0.9" stop-color="#6a57a0"/><stop offset="1" stop-color="#4e5293"/></linearGradient></defs>
<rect x="109.25" y="1096.25" width="275" height="12.5" fill="url(#pte)" stroke="#444" stroke-width="0.9" />
<line x1="113.75" y1="1091.75" x2="113.75" y2="1096.25" stroke="#555" stroke-width="1" />
<text x="113.75" y="1126.25" font-size="15" text-anchor="middle" fill="#353233" font-weight="normal" textLength="9.2" lengthAdjust="spacingAndGlyphs">0</text>
<line x1="173" y1="1091.75" x2="173" y2="1096.25" stroke="#555" stroke-width="1" />
<text x="173" y="1126.25" font-size="15" text-anchor="middle" fill="#353233" font-weight="normal" textLength="15.5" lengthAdjust="spacingAndGlyphs">10</text>
<line x1="232.5" y1="1091.75" x2="232.5" y2="1096.25" stroke="#555" stroke-width="1" />
<text x="232.5" y="1126.25" font-size="15" text-anchor="middle" fill="#353233" font-weight="normal" textLength="15.5" lengthAdjust="spacingAndGlyphs">20</text>
<line x1="292.5" y1="1091.75" x2="292.5" y2="1096.25" stroke="#555" stroke-width="1" />
<text x="292.5" y="1126.25" font-size="15" text-anchor="middle" fill="#353233" font-weight="normal" textLength="15.5" lengthAdjust="spacingAndGlyphs">30</text>
<line x1="351.75" y1="1091.75" x2="351.75" y2="1096.25" stroke="#555" stroke-width="1" />
<text x="351.75" y="1126.25" font-size="15" text-anchor="middle" fill="#353233" font-weight="normal" textLength="15.5" lengthAdjust="spacingAndGlyphs">40</text>
<text x="198.75" y="1148.75" font-size="17" text-anchor="start" fill="#353233" font-weight="normal" textLength="96.25" lengthAdjust="spacingAndGlyphs">Pseudotime</text>
<text x="32.5" y="1007.3" font-size="17.5" text-anchor="start" fill="#353233" font-weight="normal" textLength="112.5" lengthAdjust="spacingAndGlyphs" transform="rotate(-90 32.5 1007.3)">Gene module</text>
<text x="53" y="995" font-size="17.5" text-anchor="start" fill="#353233" font-weight="normal" textLength="89" lengthAdjust="spacingAndGlyphs" transform="rotate(-90 53 995)">expression</text>
<path d="M112.6,1046.8 C116.5,1045.9 128.2,1042.9 136.2,1041.5 C144.2,1040.1 152.3,1039.0 160.4,1038.4 C168.5,1037.8 176.6,1037.7 184.6,1037.9 C192.6,1038.1 200.6,1038.9 208.7,1039.6 C216.8,1040.3 224.8,1041.3 232.9,1042.0 C241.0,1042.7 247.8,1043.4 257.1,1043.9 C266.4,1044.4 278.4,1044.9 288.5,1044.9 C298.6,1044.9 308.6,1044.5 317.5,1043.9 C326.4,1043.3 332.0,1042.5 341.7,1041.5 C351.4,1040.5 369.9,1038.5 375.5,1037.9" fill="none" stroke="#6a84a0" stroke-width="2.9"/>
<path d="M112.6,1080.2 C116.5,1079.7 128.2,1078.9 136.2,1077.0 C144.2,1075.1 153.2,1071.8 160.4,1068.6 C167.7,1065.4 172.8,1062.5 179.7,1057.7 C186.5,1052.9 194.7,1045.8 201.5,1039.6 C208.3,1033.3 214.4,1026.7 220.8,1020.2 C227.2,1013.8 233.8,1006.9 240.2,1000.9 C246.6,994.9 253.1,988.8 259.5,984.0 C265.9,979.2 273.2,975.1 278.8,971.9 C284.4,968.7 287.7,966.5 293.3,964.7 C298.9,962.9 305.4,961.9 312.7,961.0 C319.9,960.1 326.3,959.6 336.8,959.3 C347.3,959.0 369.1,959.3 375.5,959.3" fill="none" stroke="#ef6b5f" stroke-width="2.9"/>
<path d="M112.6,823.3 C116.5,824.3 129.0,826.3 136.2,829.3 C143.4,832.3 149.5,837.0 155.6,841.4 C161.7,845.8 167.3,850.7 172.5,855.9 C177.7,861.1 182.2,866.8 187.0,872.8 C191.8,878.8 196.7,885.4 201.5,892.2 C206.3,899.1 211.2,906.2 216.0,913.9 C220.8,921.5 225.7,930.0 230.5,938.1 C235.3,946.2 240.2,954.2 245.0,962.2 C249.8,970.2 254.7,979.1 259.5,986.4 C264.3,993.6 269.2,1000.3 274.0,1005.7 C278.8,1011.1 283.3,1015.4 288.5,1019.0 C293.7,1022.6 298.5,1025.6 305.4,1027.5 C312.2,1029.4 321.6,1030.6 329.6,1030.4 C337.7,1030.2 346.1,1028.1 353.7,1026.3 C361.3,1024.5 371.9,1020.9 375.5,1019.8" fill="none" stroke="#2db34a" stroke-width="2.9"/>
<line x1="265" y1="832.5" x2="280" y2="832.5" stroke="#2db34a" stroke-width="3" />
<text x="289.7" y="837.8" font-size="15" text-anchor="start" fill="#353233" font-weight="normal" textLength="39" lengthAdjust="spacingAndGlyphs">Down</text>
<line x1="265" y1="850.4" x2="280" y2="850.4" stroke="#ef6b5f" stroke-width="3" />
<text x="289.7" y="855.6999999999999" font-size="15" text-anchor="start" fill="#353233" font-weight="normal">Up</text>
<line x1="265" y1="868.5" x2="280" y2="868.5" stroke="#6a84a0" stroke-width="3" />
<text x="289.7" y="873.8" font-size="15" text-anchor="start" fill="#353233" font-weight="normal" textLength="62.3" lengthAdjust="spacingAndGlyphs">Constant</text>
<line x1="104.7" y1="1167.2" x2="104.7" y2="1369.5" stroke="#555" stroke-width="1" />
<line x1="104.2" y1="1369" x2="257.7" y2="1369" stroke="#555" stroke-width="1" />
<text x="104.5" y="1388.2" font-size="14.5" text-anchor="middle" fill="#353233" font-weight="normal" textLength="8.5" lengthAdjust="spacingAndGlyphs">0</text>
<text x="179" y="1388.2" font-size="14.5" text-anchor="middle" fill="#353233" font-weight="normal" textLength="21.4" lengthAdjust="spacingAndGlyphs">0.5</text>
<text x="252" y="1388.2" font-size="14.5" text-anchor="middle" fill="#353233" font-weight="normal" textLength="21" lengthAdjust="spacingAndGlyphs">1.0</text>
<text x="109.2" y="1412.5" font-size="17.5" text-anchor="start" fill="#353233" font-weight="normal" textLength="143.8" lengthAdjust="spacingAndGlyphs">Fraction of nuclei</text>
<rect x="108.5" y="1168.4" width="31.400000000000006" height="61.5" fill="#e6d4ea" />
<rect x="139.9" y="1168.4" width="103.1" height="61.5" fill="#b97fbc" />
<rect x="108.5" y="1236.7" width="10.299999999999997" height="61.299999999999955" fill="#b97fbc" />
<rect x="118.8" y="1236.7" width="12.700000000000003" height="61.299999999999955" fill="#c6d4ec" />
<rect x="131.5" y="1236.7" width="111.5" height="61.299999999999955" fill="#5c80bc" />
<rect x="108.5" y="1305.2" width="15.299999999999997" height="61.399999999999864" fill="#e6d4ea" />
<rect x="123.8" y="1305.2" width="119.2" height="61.399999999999864" fill="#b97fbc" />
<text x="23" y="1203.7" font-size="17.5" text-anchor="start" fill="#353233" font-weight="normal" textLength="73.6" lengthAdjust="spacingAndGlyphs">Constant</text>
<text x="1.9" y="1271.9" font-size="17.5" fill="#353233" textLength="94.7" lengthAdjust="spacingAndGlyphs"><tspan font-style="italic">Trans</tspan>-down</text>
<text x="26" y="1341.6" font-size="17.5" fill="#353233" textLength="70.6" lengthAdjust="spacingAndGlyphs"><tspan font-style="italic">Trans</tspan>-up</text>
<rect x="249.8" y="1170" width="8.2" height="19.5" fill="#5c80bc" />
<text x="266.8" y="1184.7" font-size="14.7" text-anchor="start" fill="#353233" font-weight="normal" textLength="74.2" lengthAdjust="spacingAndGlyphs">OPC type I</text>
<rect x="249.8" y="1191.2" width="8.2" height="19.200000000000045" fill="#c6d4ec" />
<text x="266.8" y="1205.5" font-size="14.7" text-anchor="start" fill="#353233" font-weight="normal" textLength="78" lengthAdjust="spacingAndGlyphs">OPC type II</text>
<rect x="249.8" y="1212" width="8.2" height="19.5" fill="#b97fbc" />
<text x="266.8" y="1226.6" font-size="14.7" text-anchor="start" fill="#353233" font-weight="normal" textLength="62.3" lengthAdjust="spacingAndGlyphs">OL type I</text>
<rect x="249.8" y="1233.1" width="8.2" height="19.5" fill="#e6d4ea" />
<text x="266.8" y="1247.5" font-size="14.7" text-anchor="start" fill="#353233" font-weight="normal" textLength="66.1" lengthAdjust="spacingAndGlyphs">OL type II</text>
<text x="293.7" y="1290.6" font-size="17.5" text-anchor="start" fill="#353233" font-weight="normal" textLength="81.6" lengthAdjust="spacingAndGlyphs">Nuclei (%)</text>
<path d="M333.4,1349.2 L385.8,1358.2 A53.2,53.2 0 1 1 333.4,1296.0 Z" fill="#f0736b"/>
<path d="M335.9,1347.8 L335.9,1294.6 A53.2,53.2 0 0 1 388.3,1356.8 Z" fill="#28b24b" stroke="#fff" stroke-width="1.6"/>
<text x="345.2" y="1339.7" font-size="15.5" text-anchor="start" fill="#555" font-weight="normal" textLength="27.7" lengthAdjust="spacingAndGlyphs">27.7</text>
<text x="301.7" y="1377.7" font-size="15.5" text-anchor="start" fill="#555" font-weight="normal" textLength="38.8" lengthAdjust="spacingAndGlyphs">72.2%</text>
<text x="382.4" y="1315.4" font-size="15.5" text-anchor="start" fill="#2db34a" font-weight="normal" textLength="38.8" lengthAdjust="spacingAndGlyphs">Down</text>
<text x="301.7" y="1414.9" font-size="15.5" text-anchor="start" fill="#ef6b6b" font-weight="normal" textLength="18.2" lengthAdjust="spacingAndGlyphs">Up</text>
<path d="M384.8,1357.1 L392.7,1361" stroke="#444" stroke-width="1"/>
<text x="389.5" y="1371.3" font-size="15.5" text-anchor="start" fill="#555" font-weight="normal" textLength="58.6" lengthAdjust="spacingAndGlyphs">&gt;0.001%</text>
<text x="390.3" y="1384" font-size="15.5" text-anchor="start" fill="#7f9ab8" font-weight="normal" textLength="60.2" lengthAdjust="spacingAndGlyphs">constant</text>
<text x="492.3" y="841.3" font-size="17.5" fill="#353233" textLength="373.7" lengthAdjust="spacingAndGlyphs" xml:space="preserve">Nuclear-transcribed mRNA catabolic process</text>
<text x="679.3" y="873.6" font-size="17.5" fill="#353233" textLength="186.7" lengthAdjust="spacingAndGlyphs" xml:space="preserve">Protein targeting to ER</text>
<text x="669.8" y="906.6" font-size="17.5" fill="#353233" textLength="196.2" lengthAdjust="spacingAndGlyphs" xml:space="preserve">Cytoplasmic translation</text>
<text x="490.4" y="938.5" font-size="17.5" fill="#353233" textLength="375.6" lengthAdjust="spacingAndGlyphs" xml:space="preserve">Cotranslational  protein targeting  membrane</text>
<text x="538.8" y="967.9" font-size="17.5" fill="#353233" textLength="327.2" lengthAdjust="spacingAndGlyphs" xml:space="preserve">SRP-dependent cotranslational  protein</text>
<text x="695.8" y="983.6" font-size="17.5" fill="#353233" textLength="170.2" lengthAdjust="spacingAndGlyphs" xml:space="preserve">targeting membrane</text>
<text x="555.3" y="1008.2" font-size="17.5" fill="#353233" textLength="310.7" lengthAdjust="spacingAndGlyphs" xml:space="preserve">Regulation of small GTPase-mediated</text>
<text x="707.5" y="1024" font-size="17.5" fill="#353233" textLength="158.5" lengthAdjust="spacingAndGlyphs" xml:space="preserve">signal transduction</text>
<text x="603.7" y="1046.7" font-size="17.5" fill="#353233" textLength="262.3" lengthAdjust="spacingAndGlyphs" xml:space="preserve">Chemical synaptic transmission</text>
<text x="619.5" y="1079.7" font-size="17.5" fill="#353233" textLength="246.5" lengthAdjust="spacingAndGlyphs" xml:space="preserve">Nervous system development</text>
<text x="481.3" y="1115.7" font-size="17.5" fill="#353233" textLength="384.7" lengthAdjust="spacingAndGlyphs" xml:space="preserve">Modulation of chemical  synaptic transmission</text>
<text x="482" y="1149.4" font-size="17.5" fill="#353233" textLength="384.0" lengthAdjust="spacingAndGlyphs" xml:space="preserve">Regulation  of neuron projection development</text>
<text x="651.4" y="1183.5" font-size="17.5" fill="#353233" textLength="214.6" lengthAdjust="spacingAndGlyphs" xml:space="preserve">Protein polyubiquitination</text>
<text x="467.3" y="1218.3" font-size="17.5" fill="#353233" textLength="398.7" lengthAdjust="spacingAndGlyphs" xml:space="preserve">Long-chain fatty-acyl-CoA biosynthetic  process</text>
<text x="491.2" y="1253.9" font-size="17.5" fill="#353233" textLength="374.8" lengthAdjust="spacingAndGlyphs" xml:space="preserve">Long-chain fatty-acyl-CoA metabolic process</text>
<text x="561.6" y="1291" font-size="17.5" fill="#353233" textLength="304.4" lengthAdjust="spacingAndGlyphs" xml:space="preserve">Positive regulation of ATPase activity</text>
<text x="477.6" y="1325.4" font-size="17.5" fill="#353233" textLength="388.4" lengthAdjust="spacingAndGlyphs" xml:space="preserve">Ubiquitin-dependent protein catabolic process</text>
<rect x="874.4" y="824.8" width="9.1" height="157.0" fill="#6b8199" />
<rect x="874.4" y="995.4" width="9.1" height="163.60000000000002" fill="#2ab24b" />
<rect x="874.4" y="1170" width="9.1" height="168.5999999999999" fill="#f07670" />
<line x1="888.3" y1="823.7" x2="888.3" y2="1337.6" stroke="#555" stroke-width="1" />
<line x1="887.8" y1="1337.1" x2="1096.6" y2="1337.1" stroke="#555" stroke-width="1" />
<circle cx="1057.5" cy="833.1" r="8.5" fill="#8250a6" />
<circle cx="1057.5" cy="867.4" r="8.5" fill="#8250a6" />
<circle cx="1057.5" cy="901.9" r="8.5" fill="#8250a6" />
<circle cx="1057.5" cy="936.8" r="8.5" fill="#8250a6" />
<circle cx="1057.5" cy="971.4" r="8.5" fill="#8250a6" />
<circle cx="992.3" cy="1005.9" r="8" fill="#8250a6" />
<circle cx="992.3" cy="1040.8" r="9.3" fill="#8250a6" />
<circle cx="992.3" cy="1075.4" r="10.2" fill="#8250a6" />
<circle cx="992.3" cy="1109.8" r="8" fill="#8250a6" />
<circle cx="992.3" cy="1144.4" r="8.5" fill="#8250a6" />
<circle cx="927.2" cy="1179.3" r="7.9" fill="#f8a21c" />
<circle cx="927.2" cy="1213.8" r="2.6" fill="#f8a21c" />
<circle cx="927.2" cy="1248.7" r="3.7" fill="#f8a21c" />
<circle cx="927.2" cy="1283.3" r="4.5" fill="#f8a21c" />
<circle cx="927.2" cy="1318.1" r="8.5" fill="#8250a6" />
<text x="935.2" y="1352" font-size="18" text-anchor="end" fill="#353233" transform="rotate(-45 935.2 1352)">Trans-up</text>
<text x="1000.3" y="1352" font-size="18" text-anchor="end" fill="#353233" transform="rotate(-45 1000.3 1352)">Trans-down</text>
<text x="1065.5" y="1352" font-size="18" text-anchor="end" fill="#353233" transform="rotate(-45 1065.5 1352)">Constant</text>
<defs><linearGradient id="padj" x1="0" y1="1" x2="0" y2="0"><stop offset="0" stop-color="#8350a3"/><stop offset="0.2" stop-color="#a452a5"/><stop offset="0.38" stop-color="#d456a0"/><stop offset="0.55" stop-color="#e56a84"/><stop offset="0.75" stop-color="#f0845e"/><stop offset="1" stop-color="#f9a21b"/></linearGradient></defs>
<rect x="1104.3" y="819.2" width="15.6" height="150.2" fill="url(#padj)" />
<line x1="1114" y1="825.4" x2="1119.9" y2="825.4" stroke="#fff" stroke-width="1" />
<text x="1127.8" y="830.9" font-size="15.5" text-anchor="start" fill="#353233" font-weight="normal">0.025</text>
<line x1="1114" y1="853.7" x2="1119.9" y2="853.7" stroke="#fff" stroke-width="1" />
<text x="1127.8" y="859.2" font-size="15.5" text-anchor="start" fill="#353233" font-weight="normal">0.020</text>
<line x1="1114" y1="882.1" x2="1119.9" y2="882.1" stroke="#fff" stroke-width="1" />
<text x="1127.8" y="887.6" font-size="15.5" text-anchor="start" fill="#353233" font-weight="normal">0.015</text>
<line x1="1114" y1="911" x2="1119.9" y2="911" stroke="#fff" stroke-width="1" />
<text x="1127.8" y="916.5" font-size="15.5" text-anchor="start" fill="#353233" font-weight="normal">0.010</text>
<line x1="1114" y1="939.6" x2="1119.9" y2="939.6" stroke="#fff" stroke-width="1" />
<text x="1127.8" y="945.1" font-size="15.5" text-anchor="start" fill="#353233" font-weight="normal">0.005</text>
<text x="1185" y="825.4" font-size="18" fill="#231f20" textLength="138" lengthAdjust="spacingAndGlyphs" transform="rotate(90 1185 825.4)">Adjusted <tspan font-style="italic">P</tspan> value</text>
<circle cx="1136.3" cy="1004.5" r="7.4" fill="#1a1a1a" />
<text x="1154.7" y="1010.0" font-size="15.5" text-anchor="start" fill="#353233" font-weight="normal">20</text>
<circle cx="1136.3" cy="1034.3" r="9.9" fill="#1a1a1a" />
<text x="1154.7" y="1039.8" font-size="15.5" text-anchor="start" fill="#353233" font-weight="normal">40</text>
<circle cx="1136.3" cy="1064" r="11.3" fill="#1a1a1a" />
<text x="1154.7" y="1069.5" font-size="15.5" text-anchor="start" fill="#353233" font-weight="normal">60</text>
<text x="1185" y="989.8" font-size="18" text-anchor="start" fill="#353233" font-weight="normal" textLength="95" lengthAdjust="spacingAndGlyphs" transform="rotate(90 1185 989.8)">Gene count</text>
</svg>
</body></html>
